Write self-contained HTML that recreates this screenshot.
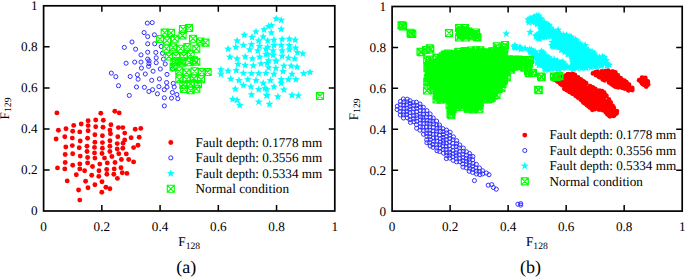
<!DOCTYPE html>
<html><head><meta charset="utf-8"><style>
html,body{margin:0;padding:0;background:#fff;width:685px;height:278px;overflow:hidden}
svg{display:block}
text{font-family:"Liberation Serif",serif;font-size:13.2px;fill:#000;text-rendering:geometricPrecision}
</style></head><body>
<svg width="685" height="278" viewBox="0 0 685 278">
<defs>
<circle id="d" r="2.45" fill="#ff0000"/>
<circle id="o" r="2.05" fill="none" stroke="#3030ff" stroke-width="1.0"/>
<path id="s" d="M0,-4.1L1.05,-1.45L3.9,-1.27L1.7,0.55L2.41,3.32L0,1.8L-2.41,3.32L-1.7,0.55L-3.9,-1.27L-1.05,-1.45Z" fill="#00ffff"/>
<path id="q" d="M-3.5,-3.5H3.5V3.5H-3.5ZM-3.5,-3.5L3.5,3.5M3.5,-3.5L-3.5,3.5" fill="none" stroke="#00ff00" stroke-width="1.1"/>
</defs>
<polygon points="558.4,79.8 563.5,83.2 563.8,83.5 564.1,83.7 564.4,84.0 564.7,84.4 564.9,84.7 565.1,85.1 565.2,85.5 565.9,87.4 572.6,91.2 573.0,91.5 581.2,97.3 581.5,97.5 581.7,97.8 585.1,101.1 590.8,105.6 591.1,106.0 592.7,107.5 593.7,107.3 594.1,107.1 594.6,107.1 595.1,107.1 595.6,107.1 603.8,108.2 604.2,108.3 604.7,108.4 605.1,108.6 605.5,108.8 605.8,109.0 606.2,109.3 606.5,109.6 606.8,109.9 609.6,113.8 611.3,114.6 614.4,113.1 614.7,111.8 612.9,109.9 612.6,109.7 612.4,109.4 612.2,109.1 608.7,103.2 605.4,97.8 603.5,95.8 603.2,95.4 602.9,95.0 602.7,94.6 602.5,94.1 602.2,93.2 597.8,92.5 597.4,92.4 597.0,92.3 596.6,92.1 596.3,92.0 588.1,87.3 587.7,87.0 579.5,81.1 579.3,81.0 574.0,76.8 570.6,75.4 565.4,78.0 564.9,78.2 564.5,78.3 558.4,79.8" fill="#ff0000"/>
<polygon points="597.8,73.7 603.0,77.2 609.8,80.6 610.2,80.9 616.5,84.9 623.7,86.0 624.1,86.1 624.5,86.2 625.0,86.4 630.1,88.9 630.2,88.8 630.2,88.7 626.0,84.5 618.1,78.8 617.7,78.5 617.4,78.2 617.1,77.9 614.5,74.3 609.7,72.7 597.8,73.7" fill="#ff0000"/>
<polygon points="641.8,80.3 642.6,81.5 646.1,84.2 646.4,83.1 644.0,79.7 642.4,79.7 641.8,80.3" fill="#ff0000"/>
<polygon points="528.9,21.9 538.4,22.7 538.8,22.8 539.3,22.9 539.7,23.0 540.1,23.2 540.5,23.4 540.9,23.7 541.2,24.0 541.5,24.3 541.8,24.7 542.0,25.0 542.2,25.4 542.4,25.9 542.5,26.3 542.6,26.7 542.6,27.2 542.6,27.6 542.5,28.1 542.4,28.5 542.3,28.9 542.1,29.4 541.1,31.4 540.9,31.7 540.6,32.1 540.4,32.4 540.0,32.8 539.7,33.0 539.3,33.3 538.9,33.5 538.5,33.6 538.1,33.8 537.7,33.9 537.2,33.9 533.4,34.1 536.7,36.2 539.0,36.6 540.4,35.7 540.8,35.4 541.3,35.2 541.7,35.1 542.2,35.0 542.6,34.9 543.1,34.9 543.5,34.9 544.0,35.0 544.5,35.1 549.0,36.6 549.4,36.8 549.8,37.0 550.1,37.2 550.5,37.5 550.8,37.8 551.1,38.1 551.3,38.5 551.6,38.9 551.8,39.3 551.9,39.7 552.0,40.1 552.9,44.5 553.5,45.7 557.3,46.8 557.7,46.9 558.0,47.1 562.6,49.3 566.8,51.1 567.2,51.2 567.6,51.5 567.9,51.7 568.3,52.0 568.6,52.4 568.8,52.7 569.1,53.1 569.2,53.5 569.6,54.3 570.9,56.4 572.9,57.9 573.2,58.2 573.5,58.5 573.8,58.9 574.0,59.3 574.2,59.7 574.4,60.1 574.5,60.6 574.6,61.0 574.6,61.5 574.6,61.9 574.5,62.4 574.4,62.8 574.3,63.2 574.1,63.6 573.8,64.0 573.6,64.4 573.3,64.7 572.9,65.0 572.6,65.3 572.2,65.5 571.8,65.7 571.4,65.9 570.9,66.0 570.5,66.1 570.0,66.1 569.6,66.1 569.1,66.0 568.7,65.9 568.2,65.8 567.8,65.6 567.4,65.3 564.5,63.4 564.2,63.2 561.7,63.3 561.3,63.3 560.9,63.3 560.5,63.2 560.1,63.1 559.7,63.0 555.0,61.0 549.3,59.8 548.9,59.7 548.4,59.5 548.0,59.3 547.6,59.0 547.2,58.7 546.9,58.4 546.6,58.0 545.4,56.3 543.1,53.7 541.0,52.7 537.3,52.9 536.8,52.9 536.3,52.9 533.7,52.5 534.9,53.5 535.3,53.8 535.6,54.1 535.8,54.4 536.0,54.8 536.2,55.2 536.4,55.6 539.4,65.2 542.6,67.5 549.0,67.9 564.7,66.9 565.0,66.9 569.9,66.9 587.7,65.9 587.9,65.9 594.6,65.7 604.7,64.2 605.1,64.2 609.2,63.9 607.9,62.0 600.7,58.0 600.4,57.8 592.4,52.3 582.5,45.9 582.2,45.7 572.5,38.4 563.0,33.2 553.6,29.2 553.2,29.0 545.8,25.0 545.6,24.9 541.6,22.4 541.2,22.2 540.9,21.9 540.6,21.6 540.3,21.2 540.1,20.9 538.0,17.5 536.1,16.9 530.9,19.7 528.9,21.9" fill="#00ffff"/>
<polygon points="433.4,85.4 434.1,85.5 435.1,85.7 436.1,86.1 437.1,86.5 438.0,87.0 438.8,87.6 439.6,88.3 440.3,89.1 440.9,89.9 441.4,90.8 441.9,91.7 442.2,92.7 442.4,93.2 443.7,93.2 444.7,93.2 445.7,93.4 446.7,93.6 447.7,94.0 448.6,94.4 449.4,94.9 450.3,95.5 451.0,96.2 451.7,96.9 452.3,97.7 452.9,98.6 453.3,99.5 453.7,100.4 453.9,101.4 454.1,102.4 454.2,102.8 454.7,102.7 455.7,102.6 456.7,102.5 467.5,102.5 468.5,102.5 469.5,102.7 470.4,102.9 471.4,103.2 471.5,103.3 473.5,103.3 473.6,102.4 473.7,101.4 474.0,100.4 474.4,99.5 474.8,98.6 475.4,97.7 476.0,96.9 476.7,96.2 477.5,95.5 478.3,94.9 479.2,94.4 480.1,93.9 481.1,93.6 482.1,93.4 483.1,93.2 488.5,92.8 490.4,91.6 493.3,87.7 496.2,81.9 496.8,80.9 503.2,71.2 503.3,71.2 507.0,65.5 507.0,65.5 506.0,65.3 505.1,64.9 504.2,64.5 503.3,64.0 502.5,63.4 501.7,62.8 501.0,62.0 500.4,61.2 499.9,60.4 499.4,59.5 499.0,58.5 498.8,57.6 498.6,56.6 498.5,55.6 498.3,50.9 495.1,51.7 493.9,51.9 492.6,52.0 484.9,52.0 478.7,54.5 477.8,54.8 476.8,55.0 468.7,56.6 468.0,56.7 455.8,58.2 444.1,61.2 436.7,64.2 435.5,64.5 433.5,65.1 433.4,85.4" fill="#00ff00"/>
<use href="#d" x="56.9" y="112.9"/>
<use href="#d" x="100.8" y="113.3"/>
<use href="#d" x="88.1" y="120.8"/>
<use href="#d" x="95.7" y="120.0"/>
<use href="#d" x="73.7" y="125.4"/>
<use href="#d" x="81.2" y="124.0"/>
<use href="#d" x="88.1" y="125.6"/>
<use href="#d" x="95.7" y="126.8"/>
<use href="#d" x="58.4" y="130.3"/>
<use href="#d" x="66.0" y="128.8"/>
<use href="#d" x="72.7" y="131.3"/>
<use href="#d" x="79.8" y="131.9"/>
<use href="#d" x="88.1" y="130.7"/>
<use href="#d" x="56.1" y="139.0"/>
<use href="#d" x="64.8" y="136.7"/>
<use href="#d" x="72.3" y="138.1"/>
<use href="#d" x="80.2" y="141.0"/>
<use href="#d" x="87.6" y="138.3"/>
<use href="#d" x="94.9" y="134.7"/>
<use href="#d" x="94.9" y="142.2"/>
<use href="#d" x="65.8" y="147.0"/>
<use href="#d" x="72.3" y="145.6"/>
<use href="#d" x="79.2" y="147.8"/>
<use href="#d" x="87.0" y="146.2"/>
<use href="#d" x="87.0" y="151.5"/>
<use href="#d" x="94.5" y="147.4"/>
<use href="#d" x="94.5" y="152.9"/>
<use href="#d" x="65.2" y="154.5"/>
<use href="#d" x="72.7" y="153.7"/>
<use href="#d" x="80.2" y="156.1"/>
<use href="#d" x="87.6" y="157.5"/>
<use href="#d" x="94.9" y="158.1"/>
<use href="#d" x="114.8" y="111.3"/>
<use href="#d" x="119.2" y="112.9"/>
<use href="#d" x="103.3" y="120.2"/>
<use href="#d" x="103.0" y="127.2"/>
<use href="#d" x="110.9" y="124.8"/>
<use href="#d" x="109.9" y="130.1"/>
<use href="#d" x="118.4" y="127.6"/>
<use href="#d" x="122.8" y="127.6"/>
<use href="#d" x="135.2" y="129.2"/>
<use href="#d" x="140.8" y="128.4"/>
<use href="#d" x="124.7" y="133.1"/>
<use href="#d" x="110.5" y="133.7"/>
<use href="#d" x="102.4" y="135.7"/>
<use href="#d" x="117.8" y="136.7"/>
<use href="#d" x="131.1" y="137.7"/>
<use href="#d" x="139.2" y="137.3"/>
<use href="#d" x="124.7" y="139.9"/>
<use href="#d" x="102.4" y="142.6"/>
<use href="#d" x="109.9" y="140.8"/>
<use href="#d" x="117.2" y="143.6"/>
<use href="#d" x="123.1" y="143.2"/>
<use href="#d" x="133.6" y="147.6"/>
<use href="#d" x="138.0" y="145.2"/>
<use href="#d" x="102.4" y="148.2"/>
<use href="#d" x="109.9" y="146.2"/>
<use href="#d" x="117.2" y="149.0"/>
<use href="#d" x="122.8" y="148.2"/>
<use href="#d" x="102.0" y="153.5"/>
<use href="#d" x="109.9" y="151.5"/>
<use href="#d" x="118.8" y="153.7"/>
<use href="#d" x="126.3" y="153.9"/>
<use href="#d" x="104.5" y="158.1"/>
<use href="#d" x="111.9" y="156.5"/>
<use href="#d" x="121.4" y="159.5"/>
<use href="#d" x="128.7" y="159.5"/>
<use href="#d" x="65.2" y="162.5"/>
<use href="#d" x="72.7" y="165.3"/>
<use href="#d" x="79.8" y="163.9"/>
<use href="#d" x="87.6" y="162.9"/>
<use href="#d" x="92.5" y="166.5"/>
<use href="#d" x="99.8" y="164.1"/>
<use href="#d" x="57.5" y="167.9"/>
<use href="#d" x="64.8" y="168.9"/>
<use href="#d" x="79.8" y="168.9"/>
<use href="#d" x="84.6" y="170.8"/>
<use href="#d" x="99.0" y="170.8"/>
<use href="#d" x="76.3" y="174.8"/>
<use href="#d" x="91.7" y="175.2"/>
<use href="#d" x="98.8" y="176.4"/>
<use href="#d" x="67.2" y="180.9"/>
<use href="#d" x="85.6" y="181.3"/>
<use href="#d" x="94.9" y="184.7"/>
<use href="#d" x="102.0" y="181.7"/>
<use href="#d" x="88.0" y="187.7"/>
<use href="#d" x="78.6" y="190.0"/>
<use href="#d" x="101.8" y="192.2"/>
<use href="#d" x="79.8" y="200.1"/>
<use href="#d" x="107.3" y="162.9"/>
<use href="#d" x="115.0" y="162.5"/>
<use href="#d" x="133.6" y="161.9"/>
<use href="#d" x="106.7" y="169.5"/>
<use href="#d" x="114.2" y="168.9"/>
<use href="#d" x="121.0" y="167.7"/>
<use href="#d" x="106.9" y="174.2"/>
<use href="#d" x="113.8" y="174.2"/>
<use href="#d" x="122.2" y="172.8"/>
<use href="#d" x="126.9" y="173.4"/>
<use href="#d" x="117.4" y="178.4"/>
<use href="#d" x="105.9" y="187.3"/>
<use href="#d" x="109.9" y="188.7"/>
<use href="#o" x="147.3" y="23.1"/>
<use href="#o" x="152.2" y="22.6"/>
<use href="#o" x="144.1" y="32.6"/>
<use href="#o" x="147.7" y="36.6"/>
<use href="#o" x="154.4" y="34.8"/>
<use href="#o" x="132.0" y="42.0"/>
<use href="#o" x="124.3" y="47.4"/>
<use href="#o" x="135.6" y="49.2"/>
<use href="#o" x="147.7" y="43.8"/>
<use href="#o" x="154.7" y="43.8"/>
<use href="#o" x="161.2" y="46.5"/>
<use href="#o" x="141.0" y="54.9"/>
<use href="#o" x="147.7" y="52.2"/>
<use href="#o" x="155.8" y="52.4"/>
<use href="#o" x="162.5" y="53.3"/>
<use href="#o" x="147.7" y="59.1"/>
<use href="#o" x="156.2" y="57.8"/>
<use href="#o" x="163.4" y="59.1"/>
<use href="#o" x="126.1" y="63.2"/>
<use href="#o" x="134.7" y="62.1"/>
<use href="#o" x="141.0" y="62.1"/>
<use href="#o" x="149.0" y="63.6"/>
<use href="#o" x="156.2" y="62.7"/>
<use href="#o" x="141.4" y="68.1"/>
<use href="#o" x="148.6" y="66.3"/>
<use href="#o" x="111.3" y="73.1"/>
<use href="#o" x="115.8" y="76.7"/>
<use href="#o" x="130.2" y="76.5"/>
<use href="#o" x="137.4" y="74.7"/>
<use href="#o" x="138.1" y="79.2"/>
<use href="#o" x="145.3" y="74.0"/>
<use href="#o" x="118.5" y="85.7"/>
<use href="#o" x="136.5" y="87.0"/>
<use href="#o" x="144.4" y="87.3"/>
<use href="#o" x="148.9" y="91.5"/>
<use href="#o" x="129.3" y="95.4"/>
<use href="#o" x="149.0" y="60.9"/>
<use href="#o" x="160.3" y="69.0"/>
<use href="#o" x="165.2" y="64.0"/>
<use href="#o" x="153.1" y="71.2"/>
<use href="#o" x="159.4" y="78.9"/>
<use href="#o" x="167.0" y="74.4"/>
<use href="#o" x="172.4" y="69.0"/>
<use href="#o" x="151.7" y="80.3"/>
<use href="#o" x="166.6" y="82.5"/>
<use href="#o" x="173.3" y="83.4"/>
<use href="#o" x="152.6" y="89.7"/>
<use href="#o" x="158.9" y="86.6"/>
<use href="#o" x="167.0" y="87.0"/>
<use href="#o" x="174.2" y="87.0"/>
<use href="#o" x="164.3" y="89.7"/>
<use href="#o" x="157.4" y="93.8"/>
<use href="#o" x="172.4" y="92.4"/>
<use href="#o" x="176.9" y="94.5"/>
<use href="#o" x="164.3" y="97.8"/>
<use href="#o" x="171.5" y="98.1"/>
<use href="#o" x="177.8" y="98.7"/>
<use href="#o" x="164.3" y="105.9"/>
<use href="#s" x="268.6" y="26.4"/>
<use href="#s" x="264.1" y="29.6"/>
<use href="#s" x="256.0" y="31.8"/>
<use href="#s" x="244.3" y="35.0"/>
<use href="#s" x="252.0" y="37.2"/>
<use href="#s" x="263.2" y="36.8"/>
<use href="#s" x="237.1" y="40.8"/>
<use href="#s" x="258.7" y="40.8"/>
<use href="#s" x="267.7" y="40.8"/>
<use href="#s" x="243.4" y="45.3"/>
<use href="#s" x="251.5" y="44.4"/>
<use href="#s" x="259.6" y="46.2"/>
<use href="#s" x="228.1" y="48.9"/>
<use href="#s" x="235.8" y="47.1"/>
<use href="#s" x="249.7" y="49.8"/>
<use href="#s" x="257.8" y="50.7"/>
<use href="#s" x="265.9" y="48.9"/>
<use href="#s" x="229.9" y="57.0"/>
<use href="#s" x="237.1" y="58.8"/>
<use href="#s" x="245.2" y="56.6"/>
<use href="#s" x="252.4" y="58.8"/>
<use href="#s" x="259.6" y="57.0"/>
<use href="#s" x="265.9" y="54.3"/>
<use href="#s" x="276.2" y="18.8"/>
<use href="#s" x="281.2" y="20.1"/>
<use href="#s" x="271.3" y="25.5"/>
<use href="#s" x="281.2" y="29.1"/>
<use href="#s" x="271.3" y="32.7"/>
<use href="#s" x="274.0" y="39.9"/>
<use href="#s" x="282.1" y="39.3"/>
<use href="#s" x="289.3" y="39.0"/>
<use href="#s" x="295.2" y="39.9"/>
<use href="#s" x="267.7" y="47.1"/>
<use href="#s" x="274.0" y="45.3"/>
<use href="#s" x="281.2" y="45.3"/>
<use href="#s" x="289.3" y="45.3"/>
<use href="#s" x="295.6" y="48.0"/>
<use href="#s" x="273.1" y="50.7"/>
<use href="#s" x="282.1" y="50.7"/>
<use href="#s" x="289.3" y="49.8"/>
<use href="#s" x="302.8" y="53.7"/>
<use href="#s" x="297.4" y="52.5"/>
<use href="#s" x="267.7" y="54.3"/>
<use href="#s" x="273.1" y="55.2"/>
<use href="#s" x="282.1" y="56.1"/>
<use href="#s" x="288.4" y="57.9"/>
<use href="#s" x="294.7" y="58.8"/>
<use href="#s" x="268.6" y="60.6"/>
<use href="#s" x="275.8" y="60.6"/>
<use href="#s" x="238.0" y="64.2"/>
<use href="#s" x="245.2" y="65.1"/>
<use href="#s" x="253.3" y="65.6"/>
<use href="#s" x="261.0" y="63.8"/>
<use href="#s" x="267.1" y="63.3"/>
<use href="#s" x="220.9" y="69.6"/>
<use href="#s" x="228.1" y="71.0"/>
<use href="#s" x="236.2" y="70.5"/>
<use href="#s" x="243.4" y="73.2"/>
<use href="#s" x="251.5" y="73.5"/>
<use href="#s" x="258.7" y="73.5"/>
<use href="#s" x="265.9" y="73.2"/>
<use href="#s" x="220.9" y="74.1"/>
<use href="#s" x="230.8" y="78.9"/>
<use href="#s" x="238.9" y="80.4"/>
<use href="#s" x="247.9" y="79.5"/>
<use href="#s" x="256.0" y="80.4"/>
<use href="#s" x="263.2" y="83.1"/>
<use href="#s" x="243.4" y="85.4"/>
<use href="#s" x="250.9" y="86.7"/>
<use href="#s" x="235.3" y="89.0"/>
<use href="#s" x="258.7" y="89.4"/>
<use href="#s" x="265.0" y="88.5"/>
<use href="#s" x="251.5" y="94.8"/>
<use href="#s" x="266.8" y="95.7"/>
<use href="#s" x="232.6" y="99.3"/>
<use href="#s" x="237.1" y="100.2"/>
<use href="#s" x="258.7" y="102.0"/>
<use href="#s" x="239.8" y="105.2"/>
<use href="#s" x="276.2" y="61.5"/>
<use href="#s" x="283.9" y="66.0"/>
<use href="#s" x="291.1" y="66.0"/>
<use href="#s" x="297.0" y="66.9"/>
<use href="#s" x="268.6" y="67.8"/>
<use href="#s" x="275.8" y="68.2"/>
<use href="#s" x="283.0" y="71.4"/>
<use href="#s" x="274.0" y="74.1"/>
<use href="#s" x="292.0" y="74.1"/>
<use href="#s" x="303.7" y="73.5"/>
<use href="#s" x="310.0" y="72.3"/>
<use href="#s" x="270.4" y="80.4"/>
<use href="#s" x="281.2" y="79.5"/>
<use href="#s" x="288.4" y="79.5"/>
<use href="#s" x="295.9" y="79.5"/>
<use href="#s" x="281.2" y="83.1"/>
<use href="#s" x="274.0" y="86.7"/>
<use href="#s" x="266.8" y="89.4"/>
<use href="#s" x="283.9" y="89.7"/>
<use href="#s" x="266.8" y="95.1"/>
<use href="#s" x="277.9" y="96.6"/>
<use href="#s" x="292.0" y="95.1"/>
<use href="#s" x="298.3" y="95.7"/>
<use href="#s" x="269.5" y="104.1"/>
<use href="#q" x="183.0" y="29.0"/>
<use href="#q" x="189.0" y="28.0"/>
<use href="#q" x="164.7" y="32.6"/>
<use href="#q" x="170.9" y="32.9"/>
<use href="#q" x="182.5" y="35.5"/>
<use href="#q" x="159.9" y="39.0"/>
<use href="#q" x="167.1" y="40.7"/>
<use href="#q" x="174.7" y="38.7"/>
<use href="#q" x="193.0" y="38.7"/>
<use href="#q" x="200.3" y="41.5"/>
<use href="#q" x="205.5" y="42.6"/>
<use href="#q" x="166.3" y="48.7"/>
<use href="#q" x="173.1" y="47.4"/>
<use href="#q" x="180.6" y="48.7"/>
<use href="#q" x="187.4" y="47.1"/>
<use href="#q" x="196.3" y="48.7"/>
<use href="#q" x="168.8" y="56.5"/>
<use href="#q" x="176.0" y="56.0"/>
<use href="#q" x="183.8" y="56.0"/>
<use href="#q" x="190.6" y="54.4"/>
<use href="#q" x="176.0" y="61.4"/>
<use href="#q" x="181.7" y="61.4"/>
<use href="#q" x="193.8" y="60.4"/>
<use href="#q" x="174.4" y="62.3"/>
<use href="#q" x="181.7" y="62.8"/>
<use href="#q" x="189.3" y="62.3"/>
<use href="#q" x="196.3" y="61.8"/>
<use href="#q" x="173.6" y="67.1"/>
<use href="#q" x="179.3" y="71.2"/>
<use href="#q" x="186.6" y="72.5"/>
<use href="#q" x="194.6" y="71.2"/>
<use href="#q" x="201.9" y="72.0"/>
<use href="#q" x="207.6" y="72.0"/>
<use href="#q" x="179.3" y="79.3"/>
<use href="#q" x="186.6" y="79.3"/>
<use href="#q" x="193.8" y="78.5"/>
<use href="#q" x="201.1" y="79.3"/>
<use href="#q" x="183.3" y="84.9"/>
<use href="#q" x="190.6" y="83.8"/>
<use href="#q" x="197.9" y="84.1"/>
<use href="#q" x="184.1" y="89.0"/>
<use href="#q" x="190.6" y="90.3"/>
<use href="#q" x="196.3" y="88.7"/>
<use href="#q" x="320.0" y="96.0"/>
<use href="#d" x="573.8" y="79.8"/>
<use href="#d" x="587.3" y="89.2"/>
<use href="#d" x="561.1" y="82.9"/>
<use href="#d" x="589.9" y="90.5"/>
<use href="#d" x="562.4" y="78.3"/>
<use href="#d" x="593.9" y="89.5"/>
<use href="#d" x="596.5" y="91.9"/>
<use href="#d" x="582.1" y="86.3"/>
<use href="#d" x="603.8" y="103.7"/>
<use href="#d" x="601.9" y="98.2"/>
<use href="#d" x="597.5" y="99.1"/>
<use href="#d" x="590.1" y="93.1"/>
<use href="#d" x="583.4" y="102.2"/>
<use href="#d" x="563.9" y="78.3"/>
<use href="#d" x="561.4" y="84.0"/>
<use href="#d" x="605.4" y="110.9"/>
<use href="#d" x="570.9" y="91.3"/>
<use href="#d" x="564.4" y="83.3"/>
<use href="#d" x="586.0" y="100.2"/>
<use href="#d" x="610.5" y="107.3"/>
<use href="#d" x="608.9" y="108.0"/>
<use href="#d" x="578.2" y="90.6"/>
<use href="#d" x="566.5" y="80.3"/>
<use href="#d" x="574.9" y="75.5"/>
<use href="#d" x="569.3" y="88.4"/>
<use href="#d" x="576.4" y="78.6"/>
<use href="#d" x="582.9" y="94.3"/>
<use href="#d" x="575.0" y="84.8"/>
<use href="#d" x="608.2" y="103.6"/>
<use href="#d" x="569.8" y="89.2"/>
<use href="#d" x="574.2" y="82.9"/>
<use href="#d" x="607.5" y="108.4"/>
<use href="#d" x="605.3" y="105.5"/>
<use href="#d" x="567.2" y="83.1"/>
<use href="#d" x="565.7" y="82.1"/>
<use href="#d" x="594.8" y="108.1"/>
<use href="#d" x="611.1" y="107.4"/>
<use href="#d" x="601.0" y="94.1"/>
<use href="#d" x="561.3" y="79.8"/>
<use href="#d" x="610.8" y="108.4"/>
<use href="#d" x="569.2" y="86.0"/>
<use href="#d" x="569.7" y="91.5"/>
<use href="#d" x="575.7" y="93.2"/>
<use href="#d" x="585.1" y="96.4"/>
<use href="#d" x="581.2" y="81.2"/>
<use href="#d" x="599.4" y="97.5"/>
<use href="#d" x="569.0" y="85.3"/>
<use href="#d" x="602.4" y="95.4"/>
<use href="#d" x="589.0" y="106.4"/>
<use href="#d" x="592.2" y="95.3"/>
<use href="#d" x="585.8" y="103.4"/>
<use href="#d" x="582.0" y="96.5"/>
<use href="#d" x="609.4" y="115.4"/>
<use href="#d" x="578.6" y="94.5"/>
<use href="#d" x="586.0" y="88.0"/>
<use href="#d" x="565.7" y="87.1"/>
<use href="#d" x="588.5" y="92.4"/>
<use href="#d" x="592.9" y="95.6"/>
<use href="#d" x="570.4" y="78.8"/>
<use href="#d" x="589.5" y="103.8"/>
<use href="#d" x="597.0" y="91.8"/>
<use href="#d" x="593.6" y="108.2"/>
<use href="#d" x="582.1" y="88.0"/>
<use href="#d" x="570.3" y="78.8"/>
<use href="#d" x="560.2" y="80.2"/>
<use href="#d" x="573.1" y="86.5"/>
<use href="#d" x="599.9" y="97.3"/>
<use href="#d" x="578.2" y="95.3"/>
<use href="#d" x="598.2" y="101.0"/>
<use href="#d" x="579.0" y="88.4"/>
<use href="#d" x="556.7" y="78.9"/>
<use href="#d" x="569.5" y="80.3"/>
<use href="#d" x="608.6" y="102.5"/>
<use href="#d" x="571.2" y="83.8"/>
<use href="#d" x="572.9" y="88.8"/>
<use href="#d" x="583.4" y="95.1"/>
<use href="#d" x="572.6" y="83.4"/>
<use href="#d" x="590.5" y="96.3"/>
<use href="#d" x="601.0" y="101.9"/>
<use href="#d" x="578.0" y="87.4"/>
<use href="#d" x="599.3" y="101.3"/>
<use href="#d" x="599.9" y="108.7"/>
<use href="#d" x="604.4" y="109.3"/>
<use href="#d" x="596.7" y="103.5"/>
<use href="#d" x="567.9" y="74.5"/>
<use href="#d" x="588.8" y="100.6"/>
<use href="#d" x="593.1" y="102.9"/>
<use href="#d" x="604.0" y="105.9"/>
<use href="#d" x="585.2" y="96.6"/>
<use href="#d" x="584.7" y="89.9"/>
<use href="#d" x="602.0" y="100.1"/>
<use href="#d" x="562.6" y="84.3"/>
<use href="#d" x="596.0" y="103.4"/>
<use href="#d" x="586.1" y="93.5"/>
<use href="#d" x="615.5" y="114.1"/>
<use href="#d" x="581.8" y="84.9"/>
<use href="#d" x="605.4" y="95.4"/>
<use href="#d" x="609.7" y="103.9"/>
<use href="#d" x="581.9" y="86.4"/>
<use href="#d" x="576.9" y="90.3"/>
<use href="#d" x="576.2" y="91.9"/>
<use href="#d" x="570.7" y="75.3"/>
<use href="#d" x="569.1" y="84.8"/>
<use href="#d" x="609.5" y="108.7"/>
<use href="#d" x="599.8" y="92.9"/>
<use href="#d" x="601.1" y="101.3"/>
<use href="#d" x="571.4" y="75.3"/>
<use href="#d" x="583.3" y="88.2"/>
<use href="#d" x="588.7" y="90.4"/>
<use href="#d" x="563.9" y="80.2"/>
<use href="#d" x="584.8" y="82.8"/>
<use href="#d" x="565.5" y="77.1"/>
<use href="#d" x="575.0" y="77.2"/>
<use href="#d" x="568.4" y="84.5"/>
<use href="#d" x="600.9" y="91.2"/>
<use href="#d" x="579.6" y="96.1"/>
<use href="#d" x="577.2" y="88.0"/>
<use href="#d" x="585.3" y="100.7"/>
<use href="#d" x="570.5" y="84.0"/>
<use href="#d" x="578.7" y="92.7"/>
<use href="#d" x="613.9" y="110.3"/>
<use href="#d" x="605.8" y="110.6"/>
<use href="#d" x="560.2" y="79.9"/>
<use href="#d" x="586.5" y="103.0"/>
<use href="#d" x="594.4" y="106.6"/>
<use href="#d" x="582.3" y="97.3"/>
<use href="#d" x="561.4" y="84.2"/>
<use href="#d" x="593.7" y="103.7"/>
<use href="#d" x="586.6" y="98.6"/>
<use href="#d" x="577.9" y="83.0"/>
<use href="#d" x="572.4" y="93.3"/>
<use href="#d" x="568.2" y="84.0"/>
<use href="#d" x="572.8" y="74.1"/>
<use href="#d" x="584.9" y="102.6"/>
<use href="#d" x="579.9" y="84.4"/>
<use href="#d" x="567.7" y="74.7"/>
<use href="#d" x="574.7" y="91.6"/>
<use href="#d" x="603.9" y="105.5"/>
<use href="#d" x="610.4" y="111.8"/>
<use href="#d" x="595.5" y="89.7"/>
<use href="#d" x="577.0" y="87.7"/>
<use href="#d" x="571.0" y="88.5"/>
<use href="#d" x="565.5" y="89.1"/>
<use href="#d" x="574.8" y="85.1"/>
<use href="#d" x="573.4" y="85.2"/>
<use href="#d" x="614.1" y="114.9"/>
<use href="#d" x="577.8" y="84.2"/>
<use href="#d" x="580.6" y="94.7"/>
<use href="#d" x="604.3" y="105.4"/>
<use href="#d" x="605.6" y="106.9"/>
<use href="#d" x="591.9" y="87.5"/>
<use href="#d" x="573.6" y="89.0"/>
<use href="#d" x="569.0" y="76.0"/>
<use href="#d" x="570.1" y="76.9"/>
<use href="#d" x="598.4" y="92.7"/>
<use href="#d" x="592.7" y="102.6"/>
<use href="#d" x="589.3" y="89.5"/>
<use href="#d" x="569.0" y="83.9"/>
<use href="#d" x="590.0" y="87.4"/>
<use href="#d" x="585.5" y="83.3"/>
<use href="#d" x="604.7" y="101.7"/>
<use href="#d" x="606.7" y="113.1"/>
<use href="#d" x="560.8" y="81.5"/>
<use href="#d" x="591.2" y="100.3"/>
<use href="#d" x="567.1" y="89.3"/>
<use href="#d" x="562.2" y="82.1"/>
<use href="#d" x="573.1" y="82.1"/>
<use href="#d" x="603.8" y="97.1"/>
<use href="#d" x="578.4" y="97.2"/>
<use href="#d" x="579.3" y="85.6"/>
<use href="#d" x="575.9" y="91.4"/>
<use href="#d" x="576.4" y="81.8"/>
<use href="#d" x="576.8" y="95.2"/>
<use href="#d" x="565.8" y="78.7"/>
<use href="#d" x="613.2" y="115.8"/>
<use href="#d" x="586.2" y="89.9"/>
<use href="#d" x="561.0" y="84.0"/>
<use href="#d" x="591.4" y="97.2"/>
<use href="#d" x="579.9" y="98.6"/>
<use href="#d" x="581.6" y="92.3"/>
<use href="#d" x="584.4" y="83.5"/>
<use href="#d" x="601.8" y="107.3"/>
<use href="#d" x="582.4" y="81.0"/>
<use href="#d" x="599.9" y="107.2"/>
<use href="#d" x="585.3" y="89.7"/>
<use href="#d" x="599.8" y="108.8"/>
<use href="#d" x="566.5" y="84.7"/>
<use href="#d" x="585.4" y="87.1"/>
<use href="#d" x="593.7" y="88.9"/>
<use href="#d" x="593.3" y="90.4"/>
<use href="#d" x="581.4" y="80.9"/>
<use href="#d" x="590.5" y="102.2"/>
<use href="#d" x="555.4" y="79.7"/>
<use href="#d" x="592.4" y="92.1"/>
<use href="#d" x="561.6" y="83.1"/>
<use href="#d" x="592.9" y="93.9"/>
<use href="#d" x="568.7" y="79.7"/>
<use href="#d" x="608.7" y="107.3"/>
<use href="#d" x="578.8" y="84.7"/>
<use href="#d" x="589.0" y="88.5"/>
<use href="#d" x="594.3" y="92.6"/>
<use href="#d" x="579.1" y="83.6"/>
<use href="#d" x="585.5" y="101.2"/>
<use href="#d" x="572.9" y="86.3"/>
<use href="#d" x="603.0" y="104.4"/>
<use href="#d" x="553.2" y="79.1"/>
<use href="#d" x="557.5" y="81.6"/>
<use href="#d" x="560.3" y="83.5"/>
<use href="#d" x="562.8" y="85.2"/>
<use href="#d" x="564.4" y="88.8"/>
<use href="#d" x="567.0" y="90.3"/>
<use href="#d" x="569.7" y="91.9"/>
<use href="#d" x="572.5" y="93.6"/>
<use href="#d" x="575.6" y="95.8"/>
<use href="#d" x="578.2" y="97.6"/>
<use href="#d" x="581.3" y="100.1"/>
<use href="#d" x="584.4" y="103.1"/>
<use href="#d" x="587.1" y="105.2"/>
<use href="#d" x="590.0" y="107.6"/>
<use href="#d" x="592.4" y="109.8"/>
<use href="#d" x="595.0" y="109.1"/>
<use href="#d" x="599.0" y="109.6"/>
<use href="#d" x="602.3" y="110.0"/>
<use href="#d" x="605.7" y="111.9"/>
<use href="#d" x="607.5" y="114.3"/>
<use href="#d" x="609.9" y="116.2"/>
<use href="#d" x="613.7" y="115.7"/>
<use href="#d" x="616.5" y="113.2"/>
<use href="#d" x="616.8" y="111.1"/>
<use href="#d" x="613.7" y="107.6"/>
<use href="#d" x="612.6" y="105.9"/>
<use href="#d" x="610.6" y="102.5"/>
<use href="#d" x="608.8" y="99.5"/>
<use href="#d" x="606.4" y="95.9"/>
<use href="#d" x="604.1" y="92.8"/>
<use href="#d" x="602.0" y="91.1"/>
<use href="#d" x="599.2" y="90.7"/>
<use href="#d" x="595.1" y="89.0"/>
<use href="#d" x="592.9" y="87.7"/>
<use href="#d" x="590.0" y="86.1"/>
<use href="#d" x="586.1" y="83.4"/>
<use href="#d" x="583.7" y="81.6"/>
<use href="#d" x="580.7" y="79.5"/>
<use href="#d" x="578.0" y="77.4"/>
<use href="#d" x="574.7" y="74.9"/>
<use href="#d" x="572.3" y="73.9"/>
<use href="#d" x="568.5" y="74.2"/>
<use href="#d" x="565.6" y="75.6"/>
<use href="#d" x="562.0" y="76.9"/>
<use href="#d" x="559.3" y="77.5"/>
<use href="#d" x="555.4" y="78.5"/>
<use href="#d" x="615.0" y="77.0"/>
<use href="#d" x="606.0" y="73.6"/>
<use href="#d" x="619.9" y="83.7"/>
<use href="#d" x="620.1" y="85.8"/>
<use href="#d" x="628.8" y="90.0"/>
<use href="#d" x="596.4" y="74.9"/>
<use href="#d" x="626.1" y="87.3"/>
<use href="#d" x="617.5" y="76.6"/>
<use href="#d" x="596.2" y="72.7"/>
<use href="#d" x="605.0" y="79.4"/>
<use href="#d" x="606.9" y="77.3"/>
<use href="#d" x="626.3" y="83.3"/>
<use href="#d" x="613.7" y="75.1"/>
<use href="#d" x="603.5" y="75.1"/>
<use href="#d" x="620.2" y="80.9"/>
<use href="#d" x="620.1" y="86.8"/>
<use href="#d" x="617.3" y="78.0"/>
<use href="#d" x="608.2" y="78.8"/>
<use href="#d" x="600.4" y="76.1"/>
<use href="#d" x="622.3" y="83.9"/>
<use href="#d" x="606.1" y="77.4"/>
<use href="#d" x="618.7" y="85.9"/>
<use href="#d" x="623.2" y="82.5"/>
<use href="#d" x="599.8" y="76.9"/>
<use href="#d" x="598.4" y="73.9"/>
<use href="#d" x="602.1" y="77.4"/>
<use href="#d" x="613.1" y="74.0"/>
<use href="#d" x="605.3" y="74.6"/>
<use href="#d" x="621.6" y="79.6"/>
<use href="#d" x="596.4" y="74.9"/>
<use href="#d" x="607.7" y="71.4"/>
<use href="#d" x="620.0" y="80.9"/>
<use href="#d" x="617.5" y="80.2"/>
<use href="#d" x="615.2" y="86.0"/>
<use href="#d" x="609.0" y="75.4"/>
<use href="#d" x="623.2" y="85.0"/>
<use href="#d" x="626.3" y="84.6"/>
<use href="#d" x="617.9" y="80.0"/>
<use href="#d" x="623.5" y="85.3"/>
<use href="#d" x="617.4" y="75.8"/>
<use href="#d" x="609.1" y="80.0"/>
<use href="#d" x="617.1" y="79.1"/>
<use href="#d" x="613.8" y="85.4"/>
<use href="#d" x="612.7" y="83.8"/>
<use href="#d" x="606.4" y="71.8"/>
<use href="#d" x="603.2" y="78.9"/>
<use href="#d" x="606.3" y="76.1"/>
<use href="#d" x="607.9" y="75.0"/>
<use href="#d" x="624.6" y="83.7"/>
<use href="#d" x="611.0" y="82.2"/>
<use href="#d" x="625.0" y="87.4"/>
<use href="#d" x="610.9" y="76.7"/>
<use href="#d" x="614.1" y="73.2"/>
<use href="#d" x="607.2" y="75.9"/>
<use href="#d" x="609.2" y="74.5"/>
<use href="#d" x="603.4" y="75.7"/>
<use href="#d" x="618.6" y="78.1"/>
<use href="#d" x="629.4" y="88.2"/>
<use href="#d" x="628.5" y="86.7"/>
<use href="#d" x="596.2" y="73.6"/>
<use href="#d" x="606.0" y="73.8"/>
<use href="#d" x="628.4" y="86.9"/>
<use href="#d" x="616.5" y="86.7"/>
<use href="#d" x="623.8" y="87.9"/>
<use href="#d" x="614.4" y="76.1"/>
<use href="#d" x="601.5" y="73.5"/>
<use href="#d" x="611.9" y="71.9"/>
<use href="#d" x="610.9" y="73.6"/>
<use href="#d" x="593.0" y="73.4"/>
<use href="#d" x="596.2" y="75.1"/>
<use href="#d" x="599.2" y="77.1"/>
<use href="#d" x="602.8" y="79.4"/>
<use href="#d" x="604.6" y="80.3"/>
<use href="#d" x="609.2" y="82.6"/>
<use href="#d" x="611.7" y="84.2"/>
<use href="#d" x="614.8" y="86.2"/>
<use href="#d" x="618.4" y="87.2"/>
<use href="#d" x="622.3" y="87.8"/>
<use href="#d" x="624.9" y="88.6"/>
<use href="#d" x="628.3" y="90.3"/>
<use href="#d" x="632.2" y="90.0"/>
<use href="#d" x="632.2" y="87.9"/>
<use href="#d" x="629.0" y="84.7"/>
<use href="#d" x="626.3" y="82.3"/>
<use href="#d" x="624.3" y="80.8"/>
<use href="#d" x="620.5" y="78.1"/>
<use href="#d" x="617.8" y="75.5"/>
<use href="#d" x="615.3" y="72.4"/>
<use href="#d" x="612.9" y="71.7"/>
<use href="#d" x="608.2" y="70.8"/>
<use href="#d" x="605.5" y="71.1"/>
<use href="#d" x="601.9" y="71.4"/>
<use href="#d" x="597.6" y="71.7"/>
<use href="#d" x="595.6" y="72.1"/>
<use href="#d" x="645.9" y="83.2"/>
<use href="#d" x="642.6" y="81.9"/>
<use href="#d" x="644.1" y="84.5"/>
<use href="#d" x="641.1" y="81.5"/>
<use href="#d" x="643.1" y="82.6"/>
<use href="#d" x="646.9" y="81.2"/>
<use href="#d" x="643.8" y="80.1"/>
<use href="#d" x="645.3" y="84.7"/>
<use href="#d" x="642.2" y="80.5"/>
<use href="#d" x="641.9" y="82.9"/>
<use href="#d" x="645.1" y="84.6"/>
<use href="#d" x="639.2" y="80.2"/>
<use href="#d" x="642.8" y="84.1"/>
<use href="#d" x="646.2" y="86.5"/>
<use href="#d" x="648.1" y="84.4"/>
<use href="#d" x="647.8" y="81.7"/>
<use href="#d" x="645.3" y="78.0"/>
<use href="#d" x="642.1" y="77.7"/>
<use href="#o" x="397.3" y="106.2"/>
<use href="#o" x="397.1" y="109.5"/>
<use href="#o" x="400.4" y="101.5"/>
<use href="#o" x="400.4" y="104.8"/>
<use href="#o" x="400.4" y="108.2"/>
<use href="#o" x="400.1" y="111.5"/>
<use href="#o" x="400.3" y="114.9"/>
<use href="#o" x="403.3" y="99.0"/>
<use href="#o" x="403.8" y="101.7"/>
<use href="#o" x="403.7" y="105.3"/>
<use href="#o" x="403.9" y="108.4"/>
<use href="#o" x="403.6" y="111.9"/>
<use href="#o" x="403.4" y="114.8"/>
<use href="#o" x="403.5" y="118.0"/>
<use href="#o" x="407.2" y="99.2"/>
<use href="#o" x="407.0" y="101.9"/>
<use href="#o" x="406.6" y="104.7"/>
<use href="#o" x="407.0" y="108.2"/>
<use href="#o" x="406.9" y="111.8"/>
<use href="#o" x="406.8" y="114.5"/>
<use href="#o" x="407.3" y="117.8"/>
<use href="#o" x="410.1" y="100.7"/>
<use href="#o" x="410.3" y="103.5"/>
<use href="#o" x="409.9" y="106.4"/>
<use href="#o" x="409.8" y="109.1"/>
<use href="#o" x="409.9" y="112.5"/>
<use href="#o" x="409.9" y="116.2"/>
<use href="#o" x="409.9" y="119.7"/>
<use href="#o" x="410.4" y="122.4"/>
<use href="#o" x="413.2" y="102.6"/>
<use href="#o" x="413.7" y="105.4"/>
<use href="#o" x="413.8" y="108.8"/>
<use href="#o" x="413.2" y="112.2"/>
<use href="#o" x="413.7" y="115.6"/>
<use href="#o" x="413.8" y="118.7"/>
<use href="#o" x="413.9" y="121.7"/>
<use href="#o" x="416.4" y="102.2"/>
<use href="#o" x="417.1" y="105.5"/>
<use href="#o" x="416.6" y="108.3"/>
<use href="#o" x="416.5" y="111.7"/>
<use href="#o" x="416.8" y="115.3"/>
<use href="#o" x="416.7" y="118.0"/>
<use href="#o" x="416.8" y="121.3"/>
<use href="#o" x="416.5" y="124.7"/>
<use href="#o" x="416.7" y="128.2"/>
<use href="#o" x="420.0" y="104.0"/>
<use href="#o" x="420.3" y="107.1"/>
<use href="#o" x="420.3" y="110.7"/>
<use href="#o" x="419.9" y="114.0"/>
<use href="#o" x="420.5" y="116.7"/>
<use href="#o" x="420.4" y="120.1"/>
<use href="#o" x="420.2" y="123.2"/>
<use href="#o" x="420.4" y="126.9"/>
<use href="#o" x="419.9" y="130.2"/>
<use href="#o" x="423.3" y="107.3"/>
<use href="#o" x="423.5" y="110.7"/>
<use href="#o" x="423.6" y="114.3"/>
<use href="#o" x="423.0" y="117.3"/>
<use href="#o" x="423.3" y="120.2"/>
<use href="#o" x="423.7" y="123.5"/>
<use href="#o" x="423.0" y="127.1"/>
<use href="#o" x="423.6" y="130.6"/>
<use href="#o" x="423.5" y="134.2"/>
<use href="#o" x="426.9" y="110.7"/>
<use href="#o" x="427.0" y="114.1"/>
<use href="#o" x="426.4" y="117.2"/>
<use href="#o" x="426.9" y="120.4"/>
<use href="#o" x="426.9" y="123.3"/>
<use href="#o" x="426.5" y="127.0"/>
<use href="#o" x="426.8" y="130.3"/>
<use href="#o" x="426.5" y="133.4"/>
<use href="#o" x="426.9" y="136.4"/>
<use href="#o" x="426.7" y="139.9"/>
<use href="#o" x="426.9" y="142.7"/>
<use href="#o" x="430.1" y="113.9"/>
<use href="#o" x="430.3" y="117.5"/>
<use href="#o" x="430.0" y="120.8"/>
<use href="#o" x="429.8" y="124.0"/>
<use href="#o" x="429.7" y="126.9"/>
<use href="#o" x="429.9" y="130.3"/>
<use href="#o" x="429.9" y="133.6"/>
<use href="#o" x="429.7" y="136.8"/>
<use href="#o" x="430.4" y="139.6"/>
<use href="#o" x="429.7" y="142.6"/>
<use href="#o" x="430.2" y="146.0"/>
<use href="#o" x="433.2" y="118.0"/>
<use href="#o" x="432.9" y="121.2"/>
<use href="#o" x="433.7" y="124.0"/>
<use href="#o" x="433.3" y="127.5"/>
<use href="#o" x="433.1" y="130.8"/>
<use href="#o" x="433.2" y="134.3"/>
<use href="#o" x="433.5" y="137.9"/>
<use href="#o" x="433.7" y="141.4"/>
<use href="#o" x="432.9" y="144.4"/>
<use href="#o" x="433.0" y="147.3"/>
<use href="#o" x="436.6" y="121.1"/>
<use href="#o" x="436.6" y="124.7"/>
<use href="#o" x="436.9" y="128.4"/>
<use href="#o" x="436.7" y="131.1"/>
<use href="#o" x="436.3" y="134.2"/>
<use href="#o" x="436.4" y="137.9"/>
<use href="#o" x="436.7" y="141.1"/>
<use href="#o" x="436.7" y="144.8"/>
<use href="#o" x="436.6" y="147.9"/>
<use href="#o" x="437.0" y="150.8"/>
<use href="#o" x="439.5" y="125.0"/>
<use href="#o" x="439.8" y="127.9"/>
<use href="#o" x="440.2" y="131.5"/>
<use href="#o" x="439.5" y="135.1"/>
<use href="#o" x="440.1" y="138.6"/>
<use href="#o" x="440.3" y="141.9"/>
<use href="#o" x="439.6" y="144.7"/>
<use href="#o" x="440.3" y="148.1"/>
<use href="#o" x="439.7" y="151.5"/>
<use href="#o" x="442.9" y="128.7"/>
<use href="#o" x="443.0" y="131.7"/>
<use href="#o" x="443.2" y="134.6"/>
<use href="#o" x="443.0" y="137.4"/>
<use href="#o" x="443.3" y="140.3"/>
<use href="#o" x="443.4" y="143.0"/>
<use href="#o" x="442.8" y="145.9"/>
<use href="#o" x="443.0" y="149.5"/>
<use href="#o" x="443.5" y="153.1"/>
<use href="#o" x="446.5" y="130.1"/>
<use href="#o" x="446.8" y="132.9"/>
<use href="#o" x="446.6" y="136.4"/>
<use href="#o" x="446.4" y="139.6"/>
<use href="#o" x="446.5" y="143.1"/>
<use href="#o" x="446.2" y="146.4"/>
<use href="#o" x="446.1" y="149.4"/>
<use href="#o" x="446.5" y="152.8"/>
<use href="#o" x="446.8" y="155.6"/>
<use href="#o" x="446.4" y="158.6"/>
<use href="#o" x="450.1" y="132.2"/>
<use href="#o" x="449.5" y="135.3"/>
<use href="#o" x="449.7" y="138.5"/>
<use href="#o" x="449.5" y="142.1"/>
<use href="#o" x="449.4" y="145.7"/>
<use href="#o" x="449.9" y="149.3"/>
<use href="#o" x="449.8" y="152.3"/>
<use href="#o" x="449.6" y="155.2"/>
<use href="#o" x="449.7" y="158.1"/>
<use href="#o" x="453.4" y="136.9"/>
<use href="#o" x="452.9" y="139.7"/>
<use href="#o" x="452.7" y="143.3"/>
<use href="#o" x="452.9" y="146.8"/>
<use href="#o" x="452.7" y="150.4"/>
<use href="#o" x="453.0" y="153.9"/>
<use href="#o" x="452.7" y="156.8"/>
<use href="#o" x="453.1" y="160.3"/>
<use href="#o" x="456.7" y="140.7"/>
<use href="#o" x="456.5" y="143.7"/>
<use href="#o" x="456.1" y="146.5"/>
<use href="#o" x="456.6" y="150.0"/>
<use href="#o" x="456.1" y="152.9"/>
<use href="#o" x="456.5" y="155.7"/>
<use href="#o" x="456.2" y="158.8"/>
<use href="#o" x="456.5" y="161.8"/>
<use href="#o" x="459.8" y="145.0"/>
<use href="#o" x="459.4" y="147.9"/>
<use href="#o" x="459.6" y="151.4"/>
<use href="#o" x="459.3" y="154.8"/>
<use href="#o" x="459.6" y="158.3"/>
<use href="#o" x="460.0" y="161.8"/>
<use href="#o" x="463.3" y="148.1"/>
<use href="#o" x="463.3" y="151.3"/>
<use href="#o" x="462.7" y="154.2"/>
<use href="#o" x="462.9" y="157.8"/>
<use href="#o" x="462.9" y="160.6"/>
<use href="#o" x="462.6" y="163.9"/>
<use href="#o" x="463.0" y="167.1"/>
<use href="#o" x="466.5" y="151.8"/>
<use href="#o" x="466.6" y="155.3"/>
<use href="#o" x="466.5" y="158.3"/>
<use href="#o" x="466.5" y="161.4"/>
<use href="#o" x="466.6" y="164.1"/>
<use href="#o" x="466.3" y="167.8"/>
<use href="#o" x="469.6" y="153.5"/>
<use href="#o" x="470.0" y="156.3"/>
<use href="#o" x="469.3" y="159.2"/>
<use href="#o" x="469.4" y="162.0"/>
<use href="#o" x="469.2" y="165.5"/>
<use href="#o" x="469.8" y="168.3"/>
<use href="#o" x="469.2" y="171.2"/>
<use href="#o" x="472.9" y="156.5"/>
<use href="#o" x="472.6" y="159.9"/>
<use href="#o" x="473.1" y="163.4"/>
<use href="#o" x="472.6" y="166.2"/>
<use href="#o" x="472.9" y="169.4"/>
<use href="#o" x="472.6" y="172.4"/>
<use href="#o" x="476.3" y="164.3"/>
<use href="#o" x="475.9" y="167.9"/>
<use href="#o" x="476.4" y="171.1"/>
<use href="#o" x="476.5" y="174.0"/>
<use href="#o" x="479.4" y="168.0"/>
<use href="#o" x="479.5" y="171.5"/>
<use href="#o" x="479.9" y="174.6"/>
<use href="#o" x="482.6" y="170.8"/>
<use href="#o" x="482.7" y="173.9"/>
<use href="#o" x="486.4" y="173.0"/>
<use href="#o" x="489.0" y="174.7"/>
<use href="#o" x="474.4" y="180.6"/>
<use href="#o" x="488.2" y="185.2"/>
<use href="#o" x="491.7" y="184.6"/>
<use href="#o" x="493.4" y="187.5"/>
<use href="#o" x="496.3" y="189.2"/>
<use href="#o" x="517.9" y="204.2"/>
<use href="#o" x="520.7" y="203.6"/>
<use href="#o" x="520.7" y="205.1"/>
<use href="#s" x="538.0" y="38.0"/>
<use href="#s" x="556.1" y="42.6"/>
<use href="#s" x="593.2" y="63.7"/>
<use href="#s" x="566.9" y="65.9"/>
<use href="#s" x="564.7" y="38.6"/>
<use href="#s" x="542.4" y="37.1"/>
<use href="#s" x="541.8" y="28.1"/>
<use href="#s" x="569.7" y="50.7"/>
<use href="#s" x="533.2" y="54.0"/>
<use href="#s" x="558.9" y="45.0"/>
<use href="#s" x="573.9" y="40.6"/>
<use href="#s" x="544.0" y="28.0"/>
<use href="#s" x="568.3" y="41.9"/>
<use href="#s" x="542.6" y="57.4"/>
<use href="#s" x="574.2" y="61.8"/>
<use href="#s" x="586.3" y="55.8"/>
<use href="#s" x="590.8" y="53.9"/>
<use href="#s" x="562.5" y="68.0"/>
<use href="#s" x="569.8" y="37.8"/>
<use href="#s" x="590.7" y="63.0"/>
<use href="#s" x="558.0" y="40.0"/>
<use href="#s" x="551.9" y="45.4"/>
<use href="#s" x="551.3" y="32.4"/>
<use href="#s" x="591.0" y="61.7"/>
<use href="#s" x="562.7" y="39.2"/>
<use href="#s" x="596.6" y="61.1"/>
<use href="#s" x="555.5" y="65.1"/>
<use href="#s" x="569.1" y="42.2"/>
<use href="#s" x="604.2" y="57.5"/>
<use href="#s" x="564.4" y="43.3"/>
<use href="#s" x="548.0" y="67.2"/>
<use href="#s" x="580.1" y="43.7"/>
<use href="#s" x="552.9" y="45.7"/>
<use href="#s" x="530.2" y="32.2"/>
<use href="#s" x="563.9" y="42.6"/>
<use href="#s" x="575.6" y="48.1"/>
<use href="#s" x="548.2" y="69.7"/>
<use href="#s" x="543.7" y="52.9"/>
<use href="#s" x="562.5" y="45.3"/>
<use href="#s" x="570.1" y="37.4"/>
<use href="#s" x="573.9" y="59.4"/>
<use href="#s" x="557.8" y="36.0"/>
<use href="#s" x="570.9" y="67.9"/>
<use href="#s" x="538.0" y="17.0"/>
<use href="#s" x="605.2" y="62.0"/>
<use href="#s" x="544.5" y="64.5"/>
<use href="#s" x="572.8" y="67.9"/>
<use href="#s" x="562.3" y="67.3"/>
<use href="#s" x="537.4" y="36.2"/>
<use href="#s" x="543.9" y="63.2"/>
<use href="#s" x="537.4" y="24.2"/>
<use href="#s" x="548.8" y="24.9"/>
<use href="#s" x="566.1" y="36.0"/>
<use href="#s" x="548.1" y="28.2"/>
<use href="#s" x="536.8" y="16.5"/>
<use href="#s" x="557.1" y="61.0"/>
<use href="#s" x="550.6" y="67.8"/>
<use href="#s" x="549.7" y="28.2"/>
<use href="#s" x="564.0" y="44.7"/>
<use href="#s" x="540.1" y="57.4"/>
<use href="#s" x="544.1" y="27.1"/>
<use href="#s" x="541.3" y="37.0"/>
<use href="#s" x="603.1" y="57.6"/>
<use href="#s" x="600.5" y="62.4"/>
<use href="#s" x="585.8" y="54.1"/>
<use href="#s" x="543.3" y="35.7"/>
<use href="#s" x="595.7" y="57.7"/>
<use href="#s" x="587.1" y="60.6"/>
<use href="#s" x="541.1" y="19.6"/>
<use href="#s" x="586.3" y="60.7"/>
<use href="#s" x="575.4" y="39.7"/>
<use href="#s" x="555.7" y="43.0"/>
<use href="#s" x="582.7" y="59.3"/>
<use href="#s" x="544.0" y="22.1"/>
<use href="#s" x="583.1" y="51.8"/>
<use href="#s" x="564.2" y="39.3"/>
<use href="#s" x="542.9" y="63.7"/>
<use href="#s" x="546.3" y="59.8"/>
<use href="#s" x="530.1" y="51.6"/>
<use href="#s" x="572.5" y="40.2"/>
<use href="#s" x="589.0" y="60.7"/>
<use href="#s" x="549.0" y="26.0"/>
<use href="#s" x="532.8" y="53.5"/>
<use href="#s" x="575.3" y="66.5"/>
<use href="#s" x="537.7" y="22.3"/>
<use href="#s" x="531.7" y="50.0"/>
<use href="#s" x="596.8" y="66.0"/>
<use href="#s" x="595.3" y="55.8"/>
<use href="#s" x="545.6" y="24.8"/>
<use href="#s" x="549.8" y="60.7"/>
<use href="#s" x="537.0" y="16.9"/>
<use href="#s" x="569.3" y="49.5"/>
<use href="#s" x="594.3" y="53.7"/>
<use href="#s" x="562.2" y="42.3"/>
<use href="#s" x="557.1" y="68.4"/>
<use href="#s" x="596.4" y="62.1"/>
<use href="#s" x="541.3" y="51.3"/>
<use href="#s" x="564.2" y="38.0"/>
<use href="#s" x="579.1" y="60.4"/>
<use href="#s" x="532.7" y="19.3"/>
<use href="#s" x="609.2" y="65.0"/>
<use href="#s" x="580.1" y="48.4"/>
<use href="#s" x="547.3" y="63.7"/>
<use href="#s" x="554.5" y="44.0"/>
<use href="#s" x="569.1" y="36.6"/>
<use href="#s" x="538.4" y="19.8"/>
<use href="#s" x="561.7" y="45.3"/>
<use href="#s" x="556.8" y="62.5"/>
<use href="#s" x="567.7" y="54.2"/>
<use href="#s" x="536.8" y="35.2"/>
<use href="#s" x="514.9" y="47.6"/>
<use href="#s" x="603.9" y="62.9"/>
<use href="#s" x="547.1" y="57.0"/>
<use href="#s" x="580.5" y="60.4"/>
<use href="#s" x="586.1" y="67.2"/>
<use href="#s" x="542.0" y="52.7"/>
<use href="#s" x="581.4" y="59.4"/>
<use href="#s" x="562.9" y="63.0"/>
<use href="#s" x="559.5" y="46.6"/>
<use href="#s" x="551.7" y="34.2"/>
<use href="#s" x="514.0" y="46.7"/>
<use href="#s" x="558.7" y="69.3"/>
<use href="#s" x="565.5" y="67.7"/>
<use href="#s" x="599.5" y="57.6"/>
<use href="#s" x="575.9" y="49.8"/>
<use href="#s" x="549.2" y="30.2"/>
<use href="#s" x="591.9" y="63.0"/>
<use href="#s" x="543.4" y="57.0"/>
<use href="#s" x="567.7" y="37.1"/>
<use href="#s" x="545.3" y="69.5"/>
<use href="#s" x="560.9" y="35.0"/>
<use href="#s" x="558.1" y="39.3"/>
<use href="#s" x="530.1" y="18.2"/>
<use href="#s" x="543.1" y="31.7"/>
<use href="#s" x="585.1" y="45.2"/>
<use href="#s" x="548.6" y="57.6"/>
<use href="#s" x="555.7" y="62.8"/>
<use href="#s" x="538.8" y="15.8"/>
<use href="#s" x="572.9" y="62.5"/>
<use href="#s" x="585.8" y="68.0"/>
<use href="#s" x="593.3" y="63.2"/>
<use href="#s" x="545.6" y="56.2"/>
<use href="#s" x="574.0" y="54.8"/>
<use href="#s" x="528.8" y="22.5"/>
<use href="#s" x="566.5" y="47.2"/>
<use href="#s" x="568.2" y="51.1"/>
<use href="#s" x="583.6" y="57.0"/>
<use href="#s" x="558.1" y="30.0"/>
<use href="#s" x="565.0" y="66.8"/>
<use href="#s" x="586.2" y="65.7"/>
<use href="#s" x="545.3" y="64.7"/>
<use href="#s" x="553.0" y="62.5"/>
<use href="#s" x="553.8" y="65.6"/>
<use href="#s" x="539.3" y="38.7"/>
<use href="#s" x="588.3" y="50.3"/>
<use href="#s" x="587.5" y="60.3"/>
<use href="#s" x="541.3" y="33.0"/>
<use href="#s" x="561.3" y="64.0"/>
<use href="#s" x="572.4" y="39.7"/>
<use href="#s" x="549.0" y="57.9"/>
<use href="#s" x="546.9" y="65.6"/>
<use href="#s" x="584.1" y="63.5"/>
<use href="#s" x="536.5" y="58.6"/>
<use href="#s" x="544.6" y="63.4"/>
<use href="#s" x="531.1" y="52.6"/>
<use href="#s" x="540.3" y="24.4"/>
<use href="#s" x="539.5" y="18.4"/>
<use href="#s" x="553.7" y="45.5"/>
<use href="#s" x="581.3" y="50.8"/>
<use href="#s" x="567.1" y="45.0"/>
<use href="#s" x="552.8" y="32.2"/>
<use href="#s" x="554.8" y="68.6"/>
<use href="#s" x="551.6" y="36.0"/>
<use href="#s" x="573.4" y="66.0"/>
<use href="#s" x="550.6" y="27.9"/>
<use href="#s" x="533.0" y="21.0"/>
<use href="#s" x="596.6" y="58.1"/>
<use href="#s" x="577.2" y="45.0"/>
<use href="#s" x="544.5" y="68.5"/>
<use href="#s" x="565.3" y="48.6"/>
<use href="#s" x="575.4" y="44.7"/>
<use href="#s" x="539.5" y="65.0"/>
<use href="#s" x="564.9" y="41.0"/>
<use href="#s" x="535.2" y="22.5"/>
<use href="#s" x="565.1" y="43.9"/>
<use href="#s" x="595.0" y="64.2"/>
<use href="#s" x="551.0" y="60.8"/>
<use href="#s" x="550.0" y="33.5"/>
<use href="#s" x="545.4" y="28.0"/>
<use href="#s" x="576.2" y="62.3"/>
<use href="#s" x="557.1" y="35.0"/>
<use href="#s" x="565.3" y="42.1"/>
<use href="#s" x="602.3" y="56.6"/>
<use href="#s" x="515.9" y="47.5"/>
<use href="#s" x="559.0" y="40.2"/>
<use href="#s" x="560.1" y="64.0"/>
<use href="#s" x="556.8" y="41.8"/>
<use href="#s" x="579.5" y="55.7"/>
<use href="#s" x="580.5" y="45.3"/>
<use href="#s" x="589.3" y="57.3"/>
<use href="#s" x="554.6" y="47.0"/>
<use href="#s" x="540.5" y="29.1"/>
<use href="#s" x="544.3" y="28.7"/>
<use href="#s" x="563.8" y="37.9"/>
<use href="#s" x="598.9" y="59.1"/>
<use href="#s" x="533.3" y="17.5"/>
<use href="#s" x="566.4" y="35.3"/>
<use href="#s" x="559.2" y="41.7"/>
<use href="#s" x="566.0" y="37.3"/>
<use href="#s" x="540.4" y="58.8"/>
<use href="#s" x="542.2" y="54.0"/>
<use href="#s" x="558.2" y="66.5"/>
<use href="#s" x="557.3" y="63.3"/>
<use href="#s" x="579.9" y="52.0"/>
<use href="#s" x="542.5" y="26.3"/>
<use href="#s" x="590.8" y="67.4"/>
<use href="#s" x="538.8" y="64.9"/>
<use href="#s" x="542.4" y="27.5"/>
<use href="#s" x="542.1" y="33.9"/>
<use href="#s" x="561.2" y="62.5"/>
<use href="#s" x="572.4" y="44.6"/>
<use href="#s" x="540.2" y="64.2"/>
<use href="#s" x="572.5" y="68.3"/>
<use href="#s" x="547.4" y="67.0"/>
<use href="#s" x="537.8" y="55.8"/>
<use href="#s" x="572.2" y="40.2"/>
<use href="#s" x="548.2" y="35.4"/>
<use href="#s" x="546.1" y="61.3"/>
<use href="#s" x="528.1" y="19.8"/>
<use href="#s" x="562.3" y="44.3"/>
<use href="#s" x="563.4" y="34.9"/>
<use href="#s" x="533.5" y="21.6"/>
<use href="#s" x="537.1" y="63.0"/>
<use href="#s" x="562.9" y="64.0"/>
<use href="#s" x="569.7" y="52.8"/>
<use href="#s" x="536.0" y="56.2"/>
<use href="#s" x="572.1" y="58.1"/>
<use href="#s" x="574.4" y="53.0"/>
<use href="#s" x="537.6" y="55.3"/>
<use href="#s" x="546.1" y="68.8"/>
<use href="#s" x="560.7" y="42.2"/>
<use href="#s" x="590.3" y="65.0"/>
<use href="#s" x="587.5" y="49.9"/>
<use href="#s" x="596.8" y="58.2"/>
<use href="#s" x="595.1" y="66.6"/>
<use href="#s" x="595.5" y="59.1"/>
<use href="#s" x="571.6" y="38.7"/>
<use href="#s" x="594.8" y="58.1"/>
<use href="#s" x="538.3" y="61.1"/>
<use href="#s" x="562.0" y="65.0"/>
<use href="#s" x="581.0" y="54.0"/>
<use href="#s" x="591.7" y="52.5"/>
<use href="#s" x="606.3" y="60.4"/>
<use href="#s" x="577.8" y="61.0"/>
<use href="#s" x="595.9" y="58.6"/>
<use href="#s" x="573.1" y="40.0"/>
<use href="#s" x="546.5" y="26.4"/>
<use href="#s" x="548.3" y="61.5"/>
<use href="#s" x="578.6" y="59.4"/>
<use href="#s" x="573.6" y="64.2"/>
<use href="#s" x="552.3" y="42.3"/>
<use href="#s" x="538.1" y="34.1"/>
<use href="#s" x="550.6" y="66.1"/>
<use href="#s" x="520.9" y="49.2"/>
<use href="#s" x="557.2" y="67.8"/>
<use href="#s" x="564.9" y="52.1"/>
<use href="#s" x="549.3" y="68.8"/>
<use href="#s" x="580.8" y="45.5"/>
<use href="#s" x="607.4" y="64.1"/>
<use href="#s" x="567.1" y="37.9"/>
<use href="#s" x="592.8" y="52.1"/>
<use href="#s" x="550.9" y="68.0"/>
<use href="#s" x="583.4" y="52.9"/>
<use href="#s" x="540.8" y="23.6"/>
<use href="#s" x="542.8" y="35.8"/>
<use href="#s" x="552.3" y="36.0"/>
<use href="#s" x="557.8" y="61.1"/>
<use href="#s" x="576.3" y="57.8"/>
<use href="#s" x="544.5" y="23.0"/>
<use href="#s" x="568.5" y="51.8"/>
<use href="#s" x="549.2" y="65.5"/>
<use href="#s" x="548.3" y="66.8"/>
<use href="#s" x="587.8" y="52.2"/>
<use href="#s" x="554.1" y="59.4"/>
<use href="#s" x="577.0" y="68.3"/>
<use href="#s" x="575.9" y="53.0"/>
<use href="#s" x="547.1" y="36.4"/>
<use href="#s" x="565.9" y="43.5"/>
<use href="#s" x="579.4" y="64.6"/>
<use href="#s" x="562.9" y="61.9"/>
<use href="#s" x="579.3" y="46.7"/>
<use href="#s" x="553.2" y="46.4"/>
<use href="#s" x="540.4" y="61.5"/>
<use href="#s" x="591.2" y="61.1"/>
<use href="#s" x="602.0" y="64.5"/>
<use href="#s" x="586.7" y="60.2"/>
<use href="#s" x="577.4" y="63.4"/>
<use href="#s" x="582.8" y="48.6"/>
<use href="#s" x="540.5" y="18.3"/>
<use href="#s" x="572.9" y="60.3"/>
<use href="#s" x="540.3" y="26.4"/>
<use href="#s" x="535.5" y="19.8"/>
<use href="#s" x="575.6" y="54.8"/>
<use href="#s" x="571.1" y="36.8"/>
<use href="#s" x="563.9" y="47.3"/>
<use href="#s" x="547.1" y="25.1"/>
<use href="#s" x="553.1" y="30.3"/>
<use href="#s" x="564.3" y="38.9"/>
<use href="#s" x="532.9" y="53.6"/>
<use href="#s" x="568.7" y="53.5"/>
<use href="#s" x="607.0" y="65.6"/>
<use href="#s" x="584.7" y="54.5"/>
<use href="#s" x="584.6" y="49.6"/>
<use href="#s" x="539.4" y="34.3"/>
<use href="#s" x="529.5" y="49.7"/>
<use href="#s" x="548.4" y="64.5"/>
<use href="#s" x="603.3" y="58.7"/>
<use href="#s" x="569.0" y="42.8"/>
<use href="#s" x="583.5" y="67.1"/>
<use href="#s" x="593.5" y="61.3"/>
<use href="#s" x="595.3" y="58.2"/>
<use href="#s" x="575.0" y="63.7"/>
<use href="#s" x="561.2" y="50.1"/>
<use href="#s" x="558.4" y="47.1"/>
<use href="#s" x="576.2" y="53.8"/>
<use href="#s" x="559.8" y="36.8"/>
<use href="#s" x="579.8" y="54.2"/>
<use href="#s" x="536.0" y="36.4"/>
<use href="#s" x="591.1" y="60.3"/>
<use href="#s" x="575.9" y="55.7"/>
<use href="#s" x="535.1" y="51.9"/>
<use href="#s" x="601.2" y="65.5"/>
<use href="#s" x="563.0" y="49.0"/>
<use href="#s" x="572.1" y="59.0"/>
<use href="#s" x="595.2" y="59.6"/>
<use href="#s" x="585.4" y="61.8"/>
<use href="#s" x="549.7" y="31.4"/>
<use href="#s" x="573.2" y="68.9"/>
<use href="#s" x="581.7" y="47.8"/>
<use href="#s" x="564.7" y="39.9"/>
<use href="#s" x="577.4" y="65.5"/>
<use href="#s" x="585.7" y="58.8"/>
<use href="#s" x="603.5" y="61.1"/>
<use href="#s" x="580.6" y="61.8"/>
<use href="#s" x="555.9" y="63.3"/>
<use href="#s" x="547.8" y="32.6"/>
<use href="#s" x="538.0" y="37.5"/>
<use href="#s" x="600.8" y="65.7"/>
<use href="#s" x="545.8" y="57.3"/>
<use href="#s" x="589.9" y="64.0"/>
<use href="#s" x="565.8" y="50.7"/>
<use href="#s" x="566.5" y="66.6"/>
<use href="#s" x="553.6" y="65.3"/>
<use href="#s" x="581.5" y="68.3"/>
<use href="#s" x="541.8" y="64.9"/>
<use href="#s" x="581.2" y="52.9"/>
<use href="#s" x="587.0" y="56.4"/>
<use href="#s" x="571.7" y="51.0"/>
<use href="#s" x="572.4" y="53.2"/>
<use href="#s" x="540.4" y="57.3"/>
<use href="#s" x="530.9" y="20.1"/>
<use href="#s" x="597.7" y="59.1"/>
<use href="#s" x="578.4" y="47.2"/>
<use href="#s" x="577.7" y="46.2"/>
<use href="#s" x="535.4" y="18.2"/>
<use href="#s" x="538.2" y="34.9"/>
<use href="#s" x="537.9" y="58.8"/>
<use href="#s" x="541.5" y="35.7"/>
<use href="#s" x="551.3" y="34.9"/>
<use href="#s" x="576.7" y="40.8"/>
<use href="#s" x="578.9" y="61.0"/>
<use href="#s" x="536.6" y="16.2"/>
<use href="#s" x="537.1" y="24.0"/>
<use href="#s" x="558.1" y="32.2"/>
<use href="#s" x="533.7" y="51.4"/>
<use href="#s" x="577.8" y="43.1"/>
<use href="#s" x="573.1" y="50.7"/>
<use href="#s" x="534.8" y="16.6"/>
<use href="#s" x="570.9" y="66.7"/>
<use href="#s" x="563.9" y="67.2"/>
<use href="#s" x="545.1" y="37.2"/>
<use href="#s" x="568.8" y="54.1"/>
<use href="#s" x="506.3" y="33.8"/>
<use href="#s" x="515.0" y="45.5"/>
<use href="#s" x="520.0" y="47.0"/>
<use href="#s" x="525.0" y="48.5"/>
<use href="#s" x="530.0" y="50.0"/>
<use href="#q" x="442.5" y="61.1"/>
<use href="#q" x="486.5" y="85.6"/>
<use href="#q" x="453.5" y="55.8"/>
<use href="#q" x="493.8" y="76.3"/>
<use href="#q" x="473.5" y="107.7"/>
<use href="#q" x="459.9" y="64.6"/>
<use href="#q" x="474.8" y="81.9"/>
<use href="#q" x="501.5" y="80.7"/>
<use href="#q" x="440.1" y="61.3"/>
<use href="#q" x="492.0" y="56.8"/>
<use href="#q" x="505.9" y="62.2"/>
<use href="#q" x="453.8" y="70.1"/>
<use href="#q" x="486.7" y="92.5"/>
<use href="#q" x="498.2" y="77.7"/>
<use href="#q" x="427.8" y="78.0"/>
<use href="#q" x="500.8" y="56.8"/>
<use href="#q" x="453.4" y="74.8"/>
<use href="#q" x="510.9" y="69.7"/>
<use href="#q" x="441.3" y="59.8"/>
<use href="#q" x="451.3" y="62.9"/>
<use href="#q" x="473.2" y="74.0"/>
<use href="#q" x="435.6" y="85.7"/>
<use href="#q" x="467.4" y="94.4"/>
<use href="#q" x="476.8" y="56.4"/>
<use href="#q" x="504.1" y="55.4"/>
<use href="#q" x="449.2" y="98.9"/>
<use href="#q" x="461.2" y="62.2"/>
<use href="#q" x="494.1" y="58.1"/>
<use href="#q" x="428.4" y="82.3"/>
<use href="#q" x="509.8" y="63.4"/>
<use href="#q" x="446.5" y="93.8"/>
<use href="#q" x="427.2" y="60.3"/>
<use href="#q" x="457.1" y="94.9"/>
<use href="#q" x="465.1" y="81.4"/>
<use href="#q" x="463.4" y="73.8"/>
<use href="#q" x="481.5" y="62.4"/>
<use href="#q" x="456.8" y="100.7"/>
<use href="#q" x="510.1" y="68.4"/>
<use href="#q" x="483.0" y="57.3"/>
<use href="#q" x="506.0" y="71.5"/>
<use href="#q" x="508.8" y="60.3"/>
<use href="#q" x="437.5" y="85.9"/>
<use href="#q" x="448.6" y="94.7"/>
<use href="#q" x="442.5" y="57.6"/>
<use href="#q" x="493.4" y="51.6"/>
<use href="#q" x="499.3" y="61.1"/>
<use href="#q" x="456.3" y="74.2"/>
<use href="#q" x="487.8" y="95.9"/>
<use href="#q" x="452.0" y="64.7"/>
<use href="#q" x="450.1" y="66.2"/>
<use href="#q" x="502.6" y="62.5"/>
<use href="#q" x="444.7" y="60.1"/>
<use href="#q" x="517.7" y="66.1"/>
<use href="#q" x="462.8" y="95.7"/>
<use href="#q" x="433.1" y="87.6"/>
<use href="#q" x="485.5" y="54.7"/>
<use href="#q" x="479.6" y="58.0"/>
<use href="#q" x="440.4" y="80.2"/>
<use href="#q" x="486.4" y="69.9"/>
<use href="#q" x="434.7" y="71.6"/>
<use href="#q" x="482.1" y="62.0"/>
<use href="#q" x="503.2" y="59.7"/>
<use href="#q" x="463.1" y="78.1"/>
<use href="#q" x="469.3" y="75.9"/>
<use href="#q" x="497.5" y="51.3"/>
<use href="#q" x="478.9" y="89.6"/>
<use href="#q" x="441.5" y="77.3"/>
<use href="#q" x="497.6" y="65.4"/>
<use href="#q" x="436.5" y="72.1"/>
<use href="#q" x="432.6" y="64.5"/>
<use href="#q" x="445.5" y="82.0"/>
<use href="#q" x="446.6" y="98.8"/>
<use href="#q" x="475.5" y="68.1"/>
<use href="#q" x="440.8" y="61.3"/>
<use href="#q" x="456.4" y="97.1"/>
<use href="#q" x="495.9" y="64.6"/>
<use href="#q" x="480.0" y="95.3"/>
<use href="#q" x="465.5" y="61.6"/>
<use href="#q" x="455.9" y="77.5"/>
<use href="#q" x="524.5" y="66.9"/>
<use href="#q" x="446.5" y="97.3"/>
<use href="#q" x="465.8" y="57.3"/>
<use href="#q" x="474.6" y="102.9"/>
<use href="#q" x="457.2" y="70.1"/>
<use href="#q" x="469.6" y="69.2"/>
<use href="#q" x="470.0" y="51.7"/>
<use href="#q" x="452.7" y="109.2"/>
<use href="#q" x="473.7" y="89.5"/>
<use href="#q" x="519.8" y="62.0"/>
<use href="#q" x="501.8" y="71.2"/>
<use href="#q" x="488.4" y="68.0"/>
<use href="#q" x="489.4" y="76.6"/>
<use href="#q" x="465.6" y="100.1"/>
<use href="#q" x="451.2" y="68.3"/>
<use href="#q" x="517.9" y="60.1"/>
<use href="#q" x="479.6" y="72.7"/>
<use href="#q" x="462.2" y="89.3"/>
<use href="#q" x="462.4" y="106.6"/>
<use href="#q" x="492.3" y="51.4"/>
<use href="#q" x="486.1" y="78.6"/>
<use href="#q" x="474.4" y="107.1"/>
<use href="#q" x="502.9" y="58.7"/>
<use href="#q" x="468.2" y="69.9"/>
<use href="#q" x="430.7" y="86.3"/>
<use href="#q" x="476.2" y="95.4"/>
<use href="#q" x="475.9" y="50.4"/>
<use href="#q" x="452.2" y="97.4"/>
<use href="#q" x="518.5" y="59.5"/>
<use href="#q" x="476.3" y="71.2"/>
<use href="#q" x="449.8" y="65.5"/>
<use href="#q" x="464.4" y="96.4"/>
<use href="#q" x="448.1" y="83.1"/>
<use href="#q" x="484.0" y="91.9"/>
<use href="#q" x="490.8" y="54.1"/>
<use href="#q" x="475.2" y="87.1"/>
<use href="#q" x="456.4" y="63.6"/>
<use href="#q" x="474.8" y="80.7"/>
<use href="#q" x="480.3" y="50.4"/>
<use href="#q" x="427.4" y="68.3"/>
<use href="#q" x="453.8" y="62.2"/>
<use href="#q" x="485.9" y="56.4"/>
<use href="#q" x="449.8" y="85.9"/>
<use href="#q" x="457.9" y="104.1"/>
<use href="#q" x="443.0" y="76.9"/>
<use href="#q" x="465.2" y="98.9"/>
<use href="#q" x="454.8" y="58.1"/>
<use href="#q" x="445.2" y="73.3"/>
<use href="#q" x="497.5" y="65.6"/>
<use href="#q" x="445.2" y="59.5"/>
<use href="#q" x="436.4" y="57.7"/>
<use href="#q" x="462.9" y="80.1"/>
<use href="#q" x="447.7" y="78.3"/>
<use href="#q" x="480.7" y="58.0"/>
<use href="#q" x="494.5" y="54.2"/>
<use href="#q" x="472.9" y="69.3"/>
<use href="#q" x="475.4" y="69.1"/>
<use href="#q" x="505.8" y="72.0"/>
<use href="#q" x="467.3" y="89.1"/>
<use href="#q" x="532.1" y="72.7"/>
<use href="#q" x="476.2" y="65.2"/>
<use href="#q" x="490.2" y="91.4"/>
<use href="#q" x="443.3" y="70.1"/>
<use href="#q" x="494.3" y="92.5"/>
<use href="#q" x="489.6" y="72.7"/>
<use href="#q" x="429.8" y="67.0"/>
<use href="#q" x="481.6" y="79.4"/>
<use href="#q" x="468.3" y="108.2"/>
<use href="#q" x="466.8" y="82.0"/>
<use href="#q" x="481.3" y="67.7"/>
<use href="#q" x="471.0" y="87.6"/>
<use href="#q" x="516.7" y="62.5"/>
<use href="#q" x="469.1" y="71.7"/>
<use href="#q" x="488.4" y="63.6"/>
<use href="#q" x="464.8" y="102.9"/>
<use href="#q" x="445.1" y="93.4"/>
<use href="#q" x="443.5" y="60.2"/>
<use href="#q" x="433.3" y="62.8"/>
<use href="#q" x="476.4" y="57.7"/>
<use href="#q" x="470.9" y="50.5"/>
<use href="#q" x="447.4" y="87.6"/>
<use href="#q" x="476.5" y="71.9"/>
<use href="#q" x="455.7" y="60.5"/>
<use href="#q" x="447.3" y="54.7"/>
<use href="#q" x="466.9" y="96.8"/>
<use href="#q" x="433.5" y="81.9"/>
<use href="#q" x="477.0" y="100.7"/>
<use href="#q" x="492.6" y="76.3"/>
<use href="#q" x="465.3" y="72.3"/>
<use href="#q" x="443.0" y="56.4"/>
<use href="#q" x="470.6" y="93.5"/>
<use href="#q" x="474.1" y="91.9"/>
<use href="#q" x="492.0" y="96.2"/>
<use href="#q" x="497.1" y="66.5"/>
<use href="#q" x="469.8" y="63.1"/>
<use href="#q" x="463.1" y="98.3"/>
<use href="#q" x="456.7" y="87.7"/>
<use href="#q" x="482.7" y="63.6"/>
<use href="#q" x="443.8" y="98.5"/>
<use href="#q" x="493.9" y="74.5"/>
<use href="#q" x="458.4" y="52.0"/>
<use href="#q" x="509.9" y="62.2"/>
<use href="#q" x="437.9" y="79.3"/>
<use href="#q" x="509.3" y="59.2"/>
<use href="#q" x="501.6" y="63.8"/>
<use href="#q" x="475.6" y="84.9"/>
<use href="#q" x="478.9" y="105.9"/>
<use href="#q" x="480.8" y="52.3"/>
<use href="#q" x="504.5" y="47.6"/>
<use href="#q" x="499.6" y="70.9"/>
<use href="#q" x="455.2" y="102.4"/>
<use href="#q" x="430.5" y="78.2"/>
<use href="#q" x="479.9" y="77.5"/>
<use href="#q" x="447.9" y="53.6"/>
<use href="#q" x="448.0" y="79.8"/>
<use href="#q" x="465.2" y="55.6"/>
<use href="#q" x="516.7" y="61.8"/>
<use href="#q" x="498.9" y="82.1"/>
<use href="#q" x="512.0" y="60.5"/>
<use href="#q" x="479.8" y="103.0"/>
<use href="#q" x="445.1" y="93.0"/>
<use href="#q" x="490.2" y="72.9"/>
<use href="#q" x="480.6" y="79.3"/>
<use href="#q" x="457.4" y="70.2"/>
<use href="#q" x="490.1" y="98.6"/>
<use href="#q" x="494.2" y="55.4"/>
<use href="#q" x="528.2" y="70.2"/>
<use href="#q" x="442.8" y="85.7"/>
<use href="#q" x="489.4" y="66.4"/>
<use href="#q" x="440.9" y="64.2"/>
<use href="#q" x="498.8" y="84.3"/>
<use href="#q" x="499.3" y="82.9"/>
<use href="#q" x="468.0" y="87.3"/>
<use href="#q" x="490.0" y="58.6"/>
<use href="#q" x="484.8" y="52.3"/>
<use href="#q" x="432.3" y="74.5"/>
<use href="#q" x="474.3" y="108.7"/>
<use href="#q" x="457.3" y="107.1"/>
<use href="#q" x="485.7" y="67.1"/>
<use href="#q" x="439.4" y="97.5"/>
<use href="#q" x="457.7" y="54.4"/>
<use href="#q" x="468.4" y="91.4"/>
<use href="#q" x="501.5" y="55.4"/>
<use href="#q" x="467.8" y="108.5"/>
<use href="#q" x="455.9" y="54.0"/>
<use href="#q" x="444.8" y="54.5"/>
<use href="#q" x="445.0" y="79.9"/>
<use href="#q" x="492.5" y="84.1"/>
<use href="#q" x="474.0" y="82.9"/>
<use href="#q" x="475.1" y="60.8"/>
<use href="#q" x="513.4" y="61.2"/>
<use href="#q" x="521.0" y="61.2"/>
<use href="#q" x="437.3" y="78.1"/>
<use href="#q" x="471.1" y="67.9"/>
<use href="#q" x="514.3" y="59.8"/>
<use href="#q" x="478.5" y="80.0"/>
<use href="#q" x="436.1" y="67.6"/>
<use href="#q" x="436.9" y="90.4"/>
<use href="#q" x="475.2" y="66.0"/>
<use href="#q" x="454.7" y="54.9"/>
<use href="#q" x="461.7" y="67.1"/>
<use href="#q" x="475.8" y="55.7"/>
<use href="#q" x="444.6" y="88.7"/>
<use href="#q" x="433.4" y="80.2"/>
<use href="#q" x="465.1" y="51.2"/>
<use href="#q" x="485.2" y="55.9"/>
<use href="#q" x="503.4" y="74.9"/>
<use href="#q" x="502.4" y="50.4"/>
<use href="#q" x="452.2" y="72.4"/>
<use href="#q" x="465.1" y="62.9"/>
<use href="#q" x="503.5" y="59.8"/>
<use href="#q" x="472.6" y="93.3"/>
<use href="#q" x="476.0" y="55.0"/>
<use href="#q" x="434.8" y="82.8"/>
<use href="#q" x="438.1" y="79.9"/>
<use href="#q" x="482.6" y="57.7"/>
<use href="#q" x="503.4" y="79.4"/>
<use href="#q" x="519.3" y="64.8"/>
<use href="#q" x="480.9" y="54.0"/>
<use href="#q" x="482.1" y="52.9"/>
<use href="#q" x="493.5" y="95.8"/>
<use href="#q" x="466.5" y="93.8"/>
<use href="#q" x="468.7" y="95.0"/>
<use href="#q" x="437.2" y="96.0"/>
<use href="#q" x="470.3" y="92.1"/>
<use href="#q" x="467.2" y="106.7"/>
<use href="#q" x="449.2" y="81.1"/>
<use href="#q" x="482.0" y="68.1"/>
<use href="#q" x="469.5" y="80.5"/>
<use href="#q" x="494.0" y="59.8"/>
<use href="#q" x="458.5" y="80.0"/>
<use href="#q" x="484.4" y="73.9"/>
<use href="#q" x="502.7" y="57.1"/>
<use href="#q" x="487.6" y="63.6"/>
<use href="#q" x="485.2" y="70.8"/>
<use href="#q" x="460.0" y="72.7"/>
<use href="#q" x="482.0" y="96.4"/>
<use href="#q" x="451.1" y="76.3"/>
<use href="#q" x="467.7" y="65.8"/>
<use href="#q" x="467.9" y="98.1"/>
<use href="#q" x="453.5" y="100.2"/>
<use href="#q" x="518.8" y="60.3"/>
<use href="#q" x="465.3" y="51.6"/>
<use href="#q" x="482.5" y="70.3"/>
<use href="#q" x="457.6" y="78.8"/>
<use href="#q" x="477.0" y="74.1"/>
<use href="#q" x="447.7" y="55.1"/>
<use href="#q" x="524.3" y="67.6"/>
<use href="#q" x="475.6" y="57.6"/>
<use href="#q" x="477.0" y="72.4"/>
<use href="#q" x="494.9" y="62.1"/>
<use href="#q" x="429.0" y="71.8"/>
<use href="#q" x="469.3" y="98.5"/>
<use href="#q" x="464.8" y="92.7"/>
<use href="#q" x="498.2" y="57.3"/>
<use href="#q" x="496.7" y="64.9"/>
<use href="#q" x="449.6" y="105.3"/>
<use href="#q" x="493.8" y="85.1"/>
<use href="#q" x="464.0" y="90.1"/>
<use href="#q" x="495.6" y="80.5"/>
<use href="#q" x="440.7" y="59.1"/>
<use href="#q" x="462.4" y="73.7"/>
<use href="#q" x="468.3" y="108.7"/>
<use href="#q" x="454.2" y="105.4"/>
<use href="#q" x="454.6" y="86.0"/>
<use href="#q" x="457.5" y="99.6"/>
<use href="#q" x="432.9" y="71.1"/>
<use href="#q" x="452.8" y="88.7"/>
<use href="#q" x="489.5" y="71.6"/>
<use href="#q" x="456.5" y="97.9"/>
<use href="#q" x="437.1" y="77.0"/>
<use href="#q" x="468.9" y="74.9"/>
<use href="#q" x="484.8" y="64.6"/>
<use href="#q" x="485.2" y="79.3"/>
<use href="#q" x="469.3" y="105.7"/>
<use href="#q" x="450.7" y="106.9"/>
<use href="#q" x="467.7" y="67.9"/>
<use href="#q" x="497.1" y="84.3"/>
<use href="#q" x="439.8" y="91.0"/>
<use href="#q" x="487.6" y="67.3"/>
<use href="#q" x="464.3" y="104.6"/>
<use href="#q" x="465.5" y="73.8"/>
<use href="#q" x="472.7" y="55.4"/>
<use href="#q" x="477.8" y="73.0"/>
<use href="#q" x="453.4" y="100.6"/>
<use href="#q" x="479.1" y="103.6"/>
<use href="#q" x="469.6" y="96.5"/>
<use href="#q" x="430.0" y="59.6"/>
<use href="#q" x="504.1" y="79.5"/>
<use href="#q" x="480.8" y="58.0"/>
<use href="#q" x="446.5" y="90.2"/>
<use href="#q" x="506.1" y="62.4"/>
<use href="#q" x="500.5" y="53.6"/>
<use href="#q" x="496.9" y="56.1"/>
<use href="#q" x="485.0" y="66.4"/>
<use href="#q" x="489.8" y="53.4"/>
<use href="#q" x="482.1" y="88.1"/>
<use href="#q" x="442.1" y="66.0"/>
<use href="#q" x="492.1" y="59.8"/>
<use href="#q" x="477.4" y="103.5"/>
<use href="#q" x="491.6" y="97.9"/>
<use href="#q" x="468.4" y="76.0"/>
<use href="#q" x="501.5" y="51.4"/>
<use href="#q" x="496.8" y="46.2"/>
<use href="#q" x="510.1" y="63.0"/>
<use href="#q" x="477.1" y="103.5"/>
<use href="#q" x="429.7" y="68.0"/>
<use href="#q" x="498.2" y="52.5"/>
<use href="#q" x="445.0" y="64.8"/>
<use href="#q" x="517.8" y="64.0"/>
<use href="#q" x="510.5" y="60.2"/>
<use href="#q" x="489.9" y="87.8"/>
<use href="#q" x="506.8" y="77.2"/>
<use href="#q" x="458.9" y="97.4"/>
<use href="#q" x="521.9" y="61.6"/>
<use href="#q" x="506.3" y="72.3"/>
<use href="#q" x="452.4" y="59.4"/>
<use href="#q" x="485.1" y="79.8"/>
<use href="#q" x="467.6" y="58.9"/>
<use href="#q" x="466.5" y="96.4"/>
<use href="#q" x="502.0" y="73.0"/>
<use href="#q" x="486.8" y="54.9"/>
<use href="#q" x="449.4" y="95.7"/>
<use href="#q" x="467.2" y="102.2"/>
<use href="#q" x="437.5" y="63.6"/>
<use href="#q" x="499.5" y="78.5"/>
<use href="#q" x="469.9" y="85.4"/>
<use href="#q" x="451.6" y="75.2"/>
<use href="#q" x="455.8" y="103.5"/>
<use href="#q" x="489.9" y="87.0"/>
<use href="#q" x="498.4" y="52.8"/>
<use href="#q" x="515.7" y="64.8"/>
<use href="#q" x="476.7" y="92.2"/>
<use href="#q" x="438.2" y="73.4"/>
<use href="#q" x="485.0" y="54.5"/>
<use href="#q" x="452.0" y="106.1"/>
<use href="#q" x="471.1" y="54.5"/>
<use href="#q" x="447.7" y="85.3"/>
<use href="#q" x="448.5" y="78.0"/>
<use href="#q" x="488.3" y="75.4"/>
<use href="#q" x="488.3" y="59.4"/>
<use href="#q" x="516.1" y="65.8"/>
<use href="#q" x="509.9" y="60.2"/>
<use href="#q" x="492.3" y="90.4"/>
<use href="#q" x="469.3" y="78.3"/>
<use href="#q" x="434.2" y="90.1"/>
<use href="#q" x="489.8" y="96.5"/>
<use href="#q" x="482.7" y="61.8"/>
<use href="#q" x="461.1" y="77.0"/>
<use href="#q" x="469.2" y="100.5"/>
<use href="#q" x="464.4" y="51.6"/>
<use href="#q" x="471.6" y="66.3"/>
<use href="#q" x="485.3" y="75.5"/>
<use href="#q" x="476.8" y="99.1"/>
<use href="#q" x="447.1" y="73.0"/>
<use href="#q" x="528.8" y="73.1"/>
<use href="#q" x="502.4" y="84.0"/>
<use href="#q" x="479.5" y="85.1"/>
<use href="#q" x="454.8" y="83.9"/>
<use href="#q" x="468.9" y="107.1"/>
<use href="#q" x="498.5" y="89.2"/>
<use href="#q" x="441.7" y="65.4"/>
<use href="#q" x="450.1" y="90.0"/>
<use href="#q" x="429.2" y="75.5"/>
<use href="#q" x="463.9" y="86.7"/>
<use href="#q" x="465.3" y="53.0"/>
<use href="#q" x="503.5" y="64.4"/>
<use href="#q" x="517.2" y="65.8"/>
<use href="#q" x="439.9" y="96.4"/>
<use href="#q" x="468.9" y="56.7"/>
<use href="#q" x="471.9" y="79.8"/>
<use href="#q" x="474.2" y="52.6"/>
<use href="#q" x="486.6" y="65.4"/>
<use href="#q" x="476.5" y="60.2"/>
<use href="#q" x="471.7" y="98.1"/>
<use href="#q" x="458.6" y="51.7"/>
<use href="#q" x="431.5" y="76.1"/>
<use href="#q" x="477.1" y="98.6"/>
<use href="#q" x="458.3" y="54.8"/>
<use href="#q" x="486.2" y="74.4"/>
<use href="#q" x="454.0" y="84.1"/>
<use href="#q" x="461.4" y="85.9"/>
<use href="#q" x="461.2" y="95.3"/>
<use href="#q" x="428.9" y="70.8"/>
<use href="#q" x="441.2" y="77.8"/>
<use href="#q" x="437.1" y="57.8"/>
<use href="#q" x="486.0" y="53.6"/>
<use href="#q" x="455.5" y="61.1"/>
<use href="#q" x="509.3" y="63.8"/>
<use href="#q" x="483.6" y="57.2"/>
<use href="#q" x="476.8" y="64.0"/>
<use href="#q" x="493.8" y="65.3"/>
<use href="#q" x="458.2" y="90.0"/>
<use href="#q" x="483.5" y="60.2"/>
<use href="#q" x="439.9" y="80.4"/>
<use href="#q" x="484.4" y="95.5"/>
<use href="#q" x="469.5" y="73.4"/>
<use href="#q" x="528.9" y="63.5"/>
<use href="#q" x="456.2" y="102.3"/>
<use href="#q" x="496.8" y="58.5"/>
<use href="#q" x="446.8" y="62.4"/>
<use href="#q" x="497.3" y="57.7"/>
<use href="#q" x="479.7" y="95.1"/>
<use href="#q" x="437.7" y="91.3"/>
<use href="#q" x="438.7" y="78.0"/>
<use href="#q" x="475.3" y="70.7"/>
<use href="#q" x="501.2" y="72.7"/>
<use href="#q" x="491.9" y="80.9"/>
<use href="#q" x="522.8" y="61.1"/>
<use href="#q" x="527.4" y="63.0"/>
<use href="#q" x="462.5" y="70.3"/>
<use href="#q" x="446.2" y="55.0"/>
<use href="#q" x="491.7" y="59.0"/>
<use href="#q" x="465.2" y="51.2"/>
<use href="#q" x="444.4" y="95.4"/>
<use href="#q" x="452.3" y="104.8"/>
<use href="#q" x="464.4" y="104.8"/>
<use href="#q" x="461.4" y="63.0"/>
<use href="#q" x="476.6" y="71.1"/>
<use href="#q" x="438.1" y="94.8"/>
<use href="#q" x="493.3" y="80.0"/>
<use href="#q" x="454.9" y="64.4"/>
<use href="#q" x="444.4" y="82.6"/>
<use href="#q" x="457.1" y="72.5"/>
<use href="#q" x="448.6" y="94.7"/>
<use href="#q" x="498.6" y="86.9"/>
<use href="#q" x="491.6" y="67.2"/>
<use href="#q" x="438.4" y="67.8"/>
<use href="#q" x="477.7" y="77.0"/>
<use href="#q" x="513.7" y="66.6"/>
<use href="#q" x="439.3" y="88.4"/>
<use href="#q" x="519.3" y="61.6"/>
<use href="#q" x="483.2" y="67.8"/>
<use href="#q" x="477.7" y="100.8"/>
<use href="#q" x="499.0" y="56.3"/>
<use href="#q" x="435.4" y="76.3"/>
<use href="#q" x="428.8" y="78.4"/>
<use href="#q" x="474.1" y="104.9"/>
<use href="#q" x="453.9" y="65.7"/>
<use href="#q" x="483.0" y="72.2"/>
<use href="#q" x="500.6" y="80.1"/>
<use href="#q" x="463.7" y="87.4"/>
<use href="#q" x="475.1" y="103.9"/>
<use href="#q" x="470.6" y="62.6"/>
<use href="#q" x="497.8" y="48.5"/>
<use href="#q" x="488.8" y="70.8"/>
<use href="#q" x="483.0" y="72.9"/>
<use href="#q" x="438.4" y="96.4"/>
<use href="#q" x="440.0" y="86.9"/>
<use href="#q" x="455.0" y="85.3"/>
<use href="#q" x="470.1" y="65.1"/>
<use href="#q" x="464.7" y="82.8"/>
<use href="#q" x="479.4" y="83.5"/>
<use href="#q" x="498.1" y="78.2"/>
<use href="#q" x="499.3" y="82.1"/>
<use href="#q" x="428.3" y="66.8"/>
<use href="#q" x="454.0" y="71.2"/>
<use href="#q" x="452.6" y="94.5"/>
<use href="#q" x="487.3" y="87.3"/>
<use href="#q" x="464.0" y="86.0"/>
<use href="#q" x="485.8" y="71.5"/>
<use href="#q" x="466.3" y="101.6"/>
<use href="#q" x="446.7" y="84.0"/>
<use href="#q" x="428.8" y="63.3"/>
<use href="#q" x="472.2" y="83.2"/>
<use href="#q" x="464.4" y="55.0"/>
<use href="#q" x="442.0" y="65.6"/>
<use href="#q" x="484.8" y="54.1"/>
<use href="#q" x="451.5" y="111.4"/>
<use href="#q" x="519.5" y="60.3"/>
<use href="#q" x="462.6" y="92.9"/>
<use href="#q" x="491.6" y="63.6"/>
<use href="#q" x="455.5" y="82.8"/>
<use href="#q" x="528.5" y="61.2"/>
<use href="#q" x="440.7" y="99.8"/>
<use href="#q" x="514.4" y="65.8"/>
<use href="#q" x="437.9" y="64.1"/>
<use href="#q" x="449.0" y="33.1"/>
<use href="#q" x="461.3" y="31.3"/>
<use href="#q" x="460.7" y="35.2"/>
<use href="#q" x="461.0" y="34.3"/>
<use href="#q" x="460.9" y="30.3"/>
<use href="#q" x="471.9" y="36.3"/>
<use href="#q" x="467.1" y="32.3"/>
<use href="#q" x="459.9" y="31.2"/>
<use href="#q" x="463.9" y="35.5"/>
<use href="#q" x="472.9" y="35.5"/>
<use href="#q" x="469.4" y="34.6"/>
<use href="#q" x="461.7" y="31.7"/>
<use href="#q" x="464.9" y="30.7"/>
<use href="#q" x="465.5" y="30.7"/>
<use href="#q" x="475.7" y="34.1"/>
<use href="#q" x="468.4" y="31.6"/>
<use href="#q" x="476.8" y="36.9"/>
<use href="#q" x="556.4" y="76.7"/>
<use href="#q" x="559.0" y="76.0"/>
<use href="#q" x="427.0" y="90.5"/>
<use href="#q" x="427.3" y="82.0"/>
<use href="#q" x="436.5" y="99.5"/>
<use href="#q" x="451.3" y="115.2"/>
<use href="#q" x="450.5" y="114.0"/>
<use href="#q" x="473.0" y="109.5"/>
<use href="#q" x="479.5" y="109.2"/>
<use href="#q" x="488.0" y="99.5"/>
<use href="#q" x="496.5" y="95.0"/>
<use href="#q" x="501.5" y="88.0"/>
<use href="#q" x="503.5" y="81.0"/>
<use href="#q" x="505.0" y="45.0"/>
<use href="#q" x="459.0" y="28.0"/>
<use href="#q" x="465.0" y="28.0"/>
<use href="#q" x="459.0" y="37.5"/>
<use href="#q" x="466.0" y="37.5"/>
<use href="#q" x="476.0" y="32.5"/>
<use href="#q" x="477.5" y="37.5"/>
<use href="#q" x="515.0" y="60.0"/>
<use href="#q" x="523.0" y="60.0"/>
<use href="#q" x="530.0" y="60.0"/>
<use href="#q" x="528.0" y="71.0"/>
<use href="#q" x="533.0" y="73.0"/>
<use href="#q" x="516.0" y="65.0"/>
<use href="#q" x="541.0" y="76.5"/>
<use href="#q" x="541.8" y="77.2"/>
<use href="#q" x="554.0" y="76.5"/>
<use href="#q" x="559.5" y="76.3"/>
<use href="#q" x="556.5" y="77.2"/>
<use href="#q" x="401.5" y="25.2"/>
<use href="#q" x="403.0" y="26.5"/>
<use href="#q" x="402.5" y="25.6"/>
<use href="#q" x="410.5" y="32.8"/>
<use href="#q" x="412.3" y="33.9"/>
<use href="#q" x="411.0" y="34.0"/>
<use href="#q" x="420.5" y="51.8"/>
<use href="#q" x="421.5" y="52.2"/>
<use href="#q" x="426.0" y="50.0"/>
<use href="#q" x="429.8" y="48.2"/>
<use href="#q" x="430.3" y="49.5"/>
<use href="#q" x="538.2" y="89.7"/>
<use href="#q" x="538.8" y="90.1"/>
<path d="M101.84 211.0v-6M101.84 5.8v6M43.6 169.96h6M334.8 169.96h-6M160.08 211.0v-6M160.08 5.8v6M43.6 128.92h6M334.8 128.92h-6M218.32 211.0v-6M218.32 5.8v6M43.6 87.88h6M334.8 87.88h-6M276.56 211.0v-6M276.56 5.8v6M43.6 46.84h6M334.8 46.84h-6" stroke="#000" stroke-width="1.5" fill="none"/>
<rect x="43.6" y="5.8" width="291.20" height="205.20" fill="none" stroke="#000" stroke-width="1.7"/>
<text x="43.60" y="231.00" text-anchor="middle">0</text>
<text x="37.60" y="215.40" text-anchor="end">0</text>
<text x="101.84" y="231.00" text-anchor="middle">0.2</text>
<text x="37.60" y="174.36" text-anchor="end">0.2</text>
<text x="160.08" y="231.00" text-anchor="middle">0.4</text>
<text x="37.60" y="133.32" text-anchor="end">0.4</text>
<text x="218.32" y="231.00" text-anchor="middle">0.6</text>
<text x="37.60" y="92.28" text-anchor="end">0.6</text>
<text x="276.56" y="231.00" text-anchor="middle">0.8</text>
<text x="37.60" y="51.24" text-anchor="end">0.8</text>
<text x="334.80" y="231.00" text-anchor="middle">1</text>
<text x="37.60" y="10.20" text-anchor="end">1</text>
<path d="M450.12 211.1v-6M450.12 6.5v6M392.1 170.18h6M682.2 170.18h-6M508.14 211.1v-6M508.14 6.5v6M392.1 129.26h6M682.2 129.26h-6M566.16 211.1v-6M566.16 6.5v6M392.1 88.34h6M682.2 88.34h-6M624.18 211.1v-6M624.18 6.5v6M392.1 47.42h6M682.2 47.42h-6" stroke="#000" stroke-width="1.5" fill="none"/>
<rect x="392.1" y="6.5" width="290.10" height="204.60" fill="none" stroke="#000" stroke-width="1.7"/>
<text x="392.10" y="231.10" text-anchor="middle">0</text>
<text x="386.10" y="215.50" text-anchor="end">0</text>
<text x="450.12" y="231.10" text-anchor="middle">0.2</text>
<text x="386.10" y="174.58" text-anchor="end">0.2</text>
<text x="508.14" y="231.10" text-anchor="middle">0.4</text>
<text x="386.10" y="133.66" text-anchor="end">0.4</text>
<text x="566.16" y="231.10" text-anchor="middle">0.6</text>
<text x="386.10" y="92.74" text-anchor="end">0.6</text>
<text x="624.18" y="231.10" text-anchor="middle">0.8</text>
<text x="386.10" y="51.82" text-anchor="end">0.8</text>
<text x="682.20" y="231.10" text-anchor="middle">1</text>
<text x="386.10" y="10.90" text-anchor="end">1</text>
<use href="#d" x="170.8" y="142.5"/>
<text x="195.6" y="146.80">Fault depth: 0.1778 mm</text>
<use href="#o" x="170.8" y="157.9"/>
<text x="195.6" y="162.25">Fault depth: 0.3556 mm</text>
<use href="#s" x="170.8" y="173.4"/>
<text x="195.6" y="177.70">Fault depth: 0.5334 mm</text>
<use href="#q" x="170.8" y="188.8"/>
<text x="195.6" y="193.15">Normal condition</text>
<use href="#d" x="524.8" y="135.1"/>
<text x="549.5" y="139.40">Fault depth: 0.1778 mm</text>
<use href="#o" x="524.8" y="150.5"/>
<text x="549.5" y="154.85">Fault depth: 0.3556 mm</text>
<use href="#s" x="524.8" y="166.0"/>
<text x="549.5" y="170.30">Fault depth: 0.5334 mm</text>
<use href="#q" x="524.8" y="181.4"/>
<text x="549.5" y="185.75">Normal condition</text>
<text x="178.3" y="246.4">F<tspan font-size="9.7" dy="2.3">128</tspan></text>
<text x="186.3" y="273.2" style="font-size:18px" text-anchor="middle">(a)</text>
<text x="526.0" y="246.4">F<tspan font-size="9.7" dy="2.3">128</tspan></text>
<text x="530.5" y="273.2" style="font-size:18px" text-anchor="middle">(b)</text>
<text transform="translate(9.4,119.4) rotate(-90)">F<tspan font-size="9.7" dy="2.0">129</tspan></text>
<text transform="translate(358.2,120.3) rotate(-90)">F<tspan font-size="9.7" dy="2.0">129</tspan></text>
</svg></body></html>
